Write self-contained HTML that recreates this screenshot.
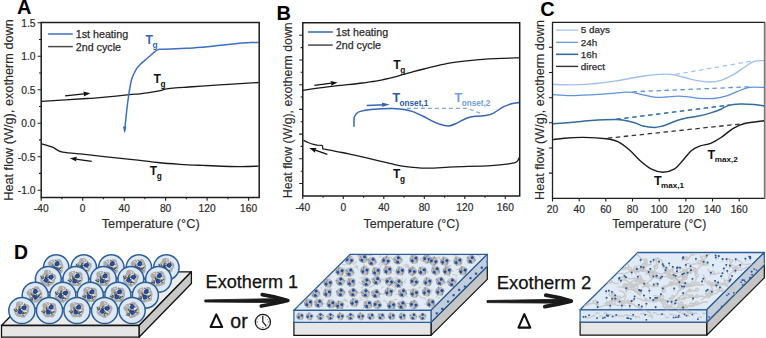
<!DOCTYPE html>
<html><head><meta charset="utf-8"><style>
html,body{margin:0;padding:0;background:#fff;}
svg{display:block;font-family:"Liberation Sans", sans-serif;}
</style></head><body>
<svg width="766" height="338" viewBox="0 0 766 338">
<defs><g id="blb"><path d="M-6,-6.5 C-3,-8.2 0,-7.6 2.2,-6.4 C4.8,-7.8 7.4,-5 6.6,-2.5 C7.8,0 7,3.2 5.2,4.8 C5.8,7 3,8.4 0.5,7.3 C-2.2,8.5 -5.4,7.2 -6.2,5 C-7.9,3 -7.6,0 -6.4,-1.8 C-7.6,-3.6 -7.4,-5.6 -6,-6.5 Z" fill="#ababab"/><path d="M2.2,3.7 l-2.6,0.3 M-1.5,-0.0 l-1.0,1.1 M0.0,0.3 l-0.2,-3.2 M-0.7,0.0 l-2.1,2.3 M-3.3,1.0 l-2.1,0.2 M0.2,-1.3 l2.5,-1.9 M2.1,2.1 l0.9,2.8 M-2.3,0.7 l-2.4,2.1 M-3.0,0.1 l-0.0,-2.4 M0.4,1.0 l1.9,-0.9 M4.6,2.0 l-2.0,2.0 M-5.1,3.4 l-2.6,-1.7 M0.7,-0.7 l0.6,-1.5 M-0.1,1.8 l1.1,1.9 M-0.1,-3.0 l1.9,-0.5 M2.6,-4.2 l-2.4,-1.8 M-1.7,-0.4 l2.8,0.2 " stroke="#4f4f4f" stroke-width="1.1" stroke-linecap="round" fill="none"/><path d="M1.0,4.8 l-2.9,-0.2 M-0.4,-0.2 l0.3,2.8 M2.7,-2.7 l-0.7,1.4 M2.9,4.2 l1.5,-0.7 M0.1,0.2 l0.3,3.0 M0.1,-4.7 l-0.3,-2.5 M4.9,-2.6 l-1.5,1.6 M0.6,0.1 l2.7,-0.1 M0.7,3.7 l-1.8,-1.7 M-2.1,3.0 l1.6,1.2 M-1.7,-3.8 l2.9,-0.8 M2.3,-2.0 l0.0,2.1 M0.4,-3.0 l2.8,0.9 M1.9,0.9 l3.0,-0.3 M-4.5,-0.7 l0.4,1.5 M-3.2,1.6 l-1.0,2.8 M-2.3,-5.4 l-1.3,-0.9 " stroke="#e9e9e9" stroke-width="0.9" stroke-linecap="round" fill="none"/><rect x="0" y="-4.2" width="3.5" height="3.5" rx="1" fill="#2352ad" stroke="#15357a" stroke-width="0.8"/><rect x="-2.9" y="0.9" width="3.5" height="3.5" rx="1" fill="#2352ad" stroke="#15357a" stroke-width="0.8"/></g><g id="mb"><path d="M-4,-3.4 C-2,-4.8 1.2,-4.8 3.4,-3.5 C4.8,-1.6 4.5,1.6 3.4,3.5 C1.2,4.8 -2,4.5 -3.8,3.2 C-5,1.2 -5,-1.6 -4,-3.4 Z" fill="#b4b4b4" opacity="0.85"/><path d="M-3.4,-2.8 C-1.2,-1.6 -2.8,0.6 -1.2,2.2 S-2,4 -0.4,4 M1.5,-3.6 C3.4,-2.2 2,0 3.6,1.8 M-4,0.4 C-3,1.2 -3.5,2.2 -2.6,3" fill="none" stroke="#888" stroke-width="1" stroke-linecap="round"/><rect x="-0.1" y="-2.9" width="2.7" height="2.6" rx="0.8" fill="#1d4ca4"/><rect x="-2.7" y="0.5" width="2.6" height="2.6" rx="0.8" fill="#1d4ca4"/></g><clipPath id="cm"><path d="M294.5,309.7 L430.4,309.7 L486.7,254.9 L350.8,254.9 Z"/><path d="M294.5,310.9 H430.4 V321.7 H294.5 Z"/><path d="M431.6,310.9 L486.7,255.8 L486.7,266.5 L431.6,321.7 Z"/></clipPath><clipPath id="cr"><path d="M580.7,309.2 L706.1,309.2 L763.1,253.1 L637.7,253.1 Z"/><path d="M580.7,310.4 H706.1 V321.6 H580.7 Z"/><path d="M707.3,310.4 L764.2,253.7 L764.2,266 L707.3,321.6 Z"/></clipPath></defs>
<rect width="766" height="338" fill="#fff"/>
<text x="17" y="14.4" font-weight="bold" font-size="20" fill="#000">A</text>
<text x="276.4" y="19.8" font-weight="bold" font-size="20" fill="#000">B</text>
<text x="540.2" y="16.3" font-weight="bold" font-size="20" fill="#000">C</text>
<text x="14.1" y="259.0" font-weight="bold" font-size="19.4" fill="#000">D</text>
<path d="M41.2,22.7h-3.6M41.2,56.2h-3.6M41.2,89.7h-3.6M41.2,123.2h-3.6M41.2,156.7h-3.6M41.2,190.2h-3.6M41.2,39.5h-2.2M41.2,73.0h-2.2M41.2,106.5h-2.2M41.2,139.9h-2.2M41.2,173.4h-2.2" stroke="#1e1e1e" stroke-width="1.1" fill="none"/>
<text x="35.6" y="26.9" text-anchor="end" font-size="10.3" fill="#2b2b2b" stroke="#2b2b2b" stroke-width="0.2">1.5</text>
<text x="35.6" y="60.4" text-anchor="end" font-size="10.3" fill="#2b2b2b" stroke="#2b2b2b" stroke-width="0.2">1.0</text>
<text x="35.6" y="93.9" text-anchor="end" font-size="10.3" fill="#2b2b2b" stroke="#2b2b2b" stroke-width="0.2">0.5</text>
<text x="35.6" y="127.4" text-anchor="end" font-size="10.3" fill="#2b2b2b" stroke="#2b2b2b" stroke-width="0.2">0.0</text>
<text x="35.6" y="160.9" text-anchor="end" font-size="10.3" fill="#2b2b2b" stroke="#2b2b2b" stroke-width="0.2">-0.5</text>
<text x="35.6" y="194.4" text-anchor="end" font-size="10.3" fill="#2b2b2b" stroke="#2b2b2b" stroke-width="0.2">-1.0</text>
<path d="M41.2,197.5v3.2M82.7,197.5v3.2M124.2,197.5v3.2M165.6,197.5v3.2M207.1,197.5v3.2M248.6,197.5v3.2M61.9,197.5v1.8M103.4,197.5v1.8M144.9,197.5v1.8M186.4,197.5v1.8M227.9,197.5v1.8" stroke="#1e1e1e" stroke-width="1.1" fill="none"/>
<text x="41.2" y="211.9" text-anchor="middle" font-size="10.2" fill="#2b2b2b" stroke="#2b2b2b" stroke-width="0.2">-40</text>
<text x="82.7" y="211.9" text-anchor="middle" font-size="10.2" fill="#2b2b2b" stroke="#2b2b2b" stroke-width="0.2">0</text>
<text x="124.2" y="211.9" text-anchor="middle" font-size="10.2" fill="#2b2b2b" stroke="#2b2b2b" stroke-width="0.2">40</text>
<text x="165.6" y="211.9" text-anchor="middle" font-size="10.2" fill="#2b2b2b" stroke="#2b2b2b" stroke-width="0.2">80</text>
<text x="207.1" y="211.9" text-anchor="middle" font-size="10.2" fill="#2b2b2b" stroke="#2b2b2b" stroke-width="0.2">120</text>
<text x="248.6" y="211.9" text-anchor="middle" font-size="10.2" fill="#2b2b2b" stroke="#2b2b2b" stroke-width="0.2">160</text>
<text transform="translate(12.5,109.95) rotate(-90)" text-anchor="middle" font-size="12.73" fill="#2b2b2b" stroke="#2b2b2b" stroke-width="0.12">Heat flow (W/g), exotherm down</text>
<text x="150.7" y="228.4" text-anchor="middle" font-size="12.75" fill="#2b2b2b" stroke="#2b2b2b" stroke-width="0.15">Temperature (°C)</text>
<path d="M48.1,34H72.8" stroke="#3d6ec2" stroke-width="1.5"/>
<text x="75.8" y="37.9" font-size="10.7" fill="#2b2b2b" stroke="#2b2b2b" stroke-width="0.25">1st heating</text>
<path d="M48.1,46.6H72.8" stroke="#4a4a4a" stroke-width="1.5"/>
<text x="75.8" y="50.6" font-size="10.7" fill="#2b2b2b" stroke="#2b2b2b" stroke-width="0.25">2nd cycle</text>
<path d="M41.5,101.3 C49.1,100.8 76.4,99.2 87.0,98.5 C97.6,97.8 98.0,97.9 105.0,97.2 C112.0,96.5 123.5,95.2 129.3,94.6 C135.1,94.0 135.2,94.4 140.0,93.8 C144.8,93.2 154.1,91.7 157.8,91.1 C161.5,90.5 160.7,90.6 162.2,90.2 C163.7,89.8 164.4,89.3 166.6,88.9 C168.8,88.5 171.8,88.2 175.5,87.9 C179.2,87.6 184.5,87.3 188.8,87.0 C193.1,86.7 194.1,86.6 201.4,86.1 C208.7,85.6 222.9,84.7 232.4,84.1 C241.9,83.5 254.2,82.8 258.6,82.5" fill="none" stroke="#1a1a1a" stroke-width="1.3" stroke-linejoin="round"/>
<path d="M41.6,143.8 C43.4,144.4 49.0,145.8 52.5,147.2 C56.0,148.6 57.0,151.0 62.7,152.2 C68.5,153.4 77.7,153.6 87.0,154.6 C96.3,155.6 109.5,157.2 118.3,158.2 C127.1,159.1 133.4,159.6 140.0,160.3 C146.6,161.0 151.0,161.8 157.7,162.5 C164.4,163.2 172.4,163.8 180.0,164.3 C187.6,164.8 193.4,165.0 203.2,165.4 C213.0,165.8 229.5,166.5 238.7,166.6 C247.9,166.7 255.3,166.2 258.6,166.1" fill="none" stroke="#1a1a1a" stroke-width="1.3" stroke-linejoin="round"/>
<path d="M124.6,131.5 C124.7,130.3 124.9,128.0 125.3,124.4 C125.7,120.8 126.2,114.7 126.8,110.0 C127.3,105.3 128.0,100.0 128.6,96.0 C129.2,92.0 129.7,88.7 130.2,86.0 C130.7,83.3 130.9,81.7 131.5,79.7 C132.1,77.7 133.0,75.7 133.9,73.8 C134.8,71.9 135.7,70.0 136.8,68.4 C137.9,66.8 139.0,65.7 140.4,64.3 C141.8,62.9 143.5,61.5 145.1,60.1 C146.7,58.7 148.3,57.4 149.9,56.0 C151.5,54.6 153.2,52.9 154.6,51.8 C156.0,50.7 157.2,50.0 158.2,49.6 C159.2,49.2 158.7,49.4 160.8,49.3 C162.9,49.2 166.4,49.3 170.7,49.1 C174.9,48.9 181.1,48.6 186.3,48.3 C191.5,48.0 198.1,47.5 202.0,47.2 C205.9,46.9 206.4,47.0 210.0,46.6 C213.6,46.2 219.1,45.4 223.6,44.9 C228.1,44.4 232.7,43.8 237.2,43.4 C241.7,43.0 247.1,42.8 250.7,42.6 C254.3,42.4 257.3,42.4 258.6,42.4" fill="none" stroke="#3d6ec2" stroke-width="1.5" stroke-linejoin="round"/>
<path d="M122.9,126.6 L124.6,133.2 L126.4,126.8 Z" fill="#3d6ec2"/>
<path d="M65.1,95.9 L86.4,93.7" stroke="#111" stroke-width="1.3"/>
<path d="M90.4,93.3 L83.7,96.4 L84.2,93.9 L83.2,91.6 Z" fill="#111"/>
<path d="M91.7,161.3 L73.8,158.8" stroke="#111" stroke-width="1.3"/>
<path d="M69.8,158.2 L77.1,156.8 L75.9,159.1 L76.4,161.6 Z" fill="#111"/>
<text x="145.6" y="43.8" font-weight="bold" font-size="12.1" fill="#3264b8">T<tspan dx="-0.4" dy="3.9" font-size="8.3">g</tspan></text>
<text x="153.4" y="83.0" font-weight="bold" font-size="12.1" fill="#111">T<tspan dx="-0.4" dy="3.9" font-size="8.3">g</tspan></text>
<text x="149.7" y="174.7" font-weight="bold" font-size="12.1" fill="#111">T<tspan dx="-0.4" dy="3.9" font-size="8.3">g</tspan></text>
<path d="M41.2,22.6 H259.2 V197.5 H41.2 Z" fill="none" stroke="#1e1e1e" stroke-width="1.5"/>
<path d="M302.8,35.3h-3.6M302.8,60.0h-3.6M302.8,84.7h-3.6M302.8,109.4h-3.6M302.8,134.1h-3.6M302.8,158.8h-3.6M302.8,183.5h-3.6M302.8,47.6h-2.2M302.8,72.3h-2.2M302.8,97.0h-2.2M302.8,121.8h-2.2M302.8,146.4h-2.2M302.8,171.2h-2.2" stroke="#1e1e1e" stroke-width="1.1" fill="none"/>
<path d="M302.8,195.9v3.2M343.3,195.9v3.2M383.8,195.9v3.2M424.3,195.9v3.2M464.8,195.9v3.2M505.3,195.9v3.2M323.1,195.9v1.8M363.6,195.9v1.8M404.1,195.9v1.8M444.6,195.9v1.8M485.1,195.9v1.8" stroke="#1e1e1e" stroke-width="1.1" fill="none"/>
<text x="302.8" y="211.0" text-anchor="middle" font-size="10.2" fill="#2b2b2b" stroke="#2b2b2b" stroke-width="0.2">-40</text>
<text x="343.3" y="211.0" text-anchor="middle" font-size="10.2" fill="#2b2b2b" stroke="#2b2b2b" stroke-width="0.2">0</text>
<text x="383.8" y="211.0" text-anchor="middle" font-size="10.2" fill="#2b2b2b" stroke="#2b2b2b" stroke-width="0.2">40</text>
<text x="424.3" y="211.0" text-anchor="middle" font-size="10.2" fill="#2b2b2b" stroke="#2b2b2b" stroke-width="0.2">80</text>
<text x="464.8" y="211.0" text-anchor="middle" font-size="10.2" fill="#2b2b2b" stroke="#2b2b2b" stroke-width="0.2">120</text>
<text x="505.3" y="211.0" text-anchor="middle" font-size="10.2" fill="#2b2b2b" stroke="#2b2b2b" stroke-width="0.2">160</text>
<text transform="translate(292.0,110.3) rotate(-90)" text-anchor="middle" font-size="12.32" fill="#2b2b2b" stroke="#2b2b2b" stroke-width="0.12">Heat flow (W/g), exotherm down</text>
<text x="411.5" y="227.6" text-anchor="middle" font-size="12.5" fill="#2b2b2b" stroke="#2b2b2b" stroke-width="0.15">Temperature (°C)</text>
<path d="M308.1,32H332.8" stroke="#3565b5" stroke-width="1.5"/>
<text x="335.8" y="35.8" font-size="10.7" fill="#2b2b2b" stroke="#2b2b2b" stroke-width="0.25">1st heating</text>
<path d="M308.1,45.1H332.8" stroke="#4a4a4a" stroke-width="1.5"/>
<text x="335.8" y="49.0" font-size="10.7" fill="#2b2b2b" stroke="#2b2b2b" stroke-width="0.25">2nd cycle</text>
<path d="M303.0,90.4 C305.1,90.1 311.0,89.1 315.7,88.4 C320.4,87.7 326.1,86.9 331.3,86.3 C336.5,85.7 341.8,85.2 347.0,84.7 C352.2,84.2 357.5,83.7 362.7,83.0 C367.9,82.3 373.1,81.7 378.3,80.7 C383.5,79.7 389.8,78.2 394.0,77.2 C398.2,76.2 400.7,75.2 403.4,74.4 C406.1,73.6 406.6,73.5 410.0,72.6 C413.4,71.7 417.6,70.5 423.9,69.0 C430.2,67.5 439.8,64.8 447.8,63.4 C455.8,61.9 463.7,61.1 471.7,60.3 C479.7,59.5 487.7,59.0 495.6,58.6 C503.5,58.2 515.3,58.0 519.2,57.9" fill="none" stroke="#1a1a1a" stroke-width="1.3" stroke-linejoin="round"/>
<path d="M303.5,140.2 C304.3,140.6 306.5,141.8 308.2,142.5 C309.9,143.2 312.0,144.0 313.5,144.4 C315.0,144.8 315.9,145.0 317.4,145.2 C318.9,145.3 321.6,145.3 322.4,145.3" fill="none" stroke="#1a1a1a" stroke-width="1.3" stroke-linejoin="round"/>
<path d="M322.4,145.3 L322.9,149.0 L324.3,149.2" fill="none" stroke="#1a1a1a" stroke-width="1.3"/>
<path d="M324.3,149.2 C327.2,149.8 337.2,151.6 342.0,152.5 C346.8,153.4 347.0,153.5 353.3,154.9 C359.6,156.3 373.6,159.6 379.9,161.1 C386.2,162.6 387.1,162.8 391.1,163.7 C395.1,164.6 398.2,165.6 404.1,166.3 C410.0,167.1 418.0,168.1 426.3,168.2 C434.6,168.3 443.4,167.3 454.2,166.9 C465.0,166.5 481.9,166.1 491.2,165.6 C500.5,165.1 505.6,164.3 509.8,163.7 C514.0,163.1 514.9,163.0 516.5,162.0 C518.1,161.0 518.8,158.3 519.2,157.6" fill="none" stroke="#1a1a1a" stroke-width="1.3" stroke-linejoin="round"/>
<path d="M354.0,126.7 C354.0,125.8 353.9,122.6 354.0,121.0 C354.1,119.4 353.9,118.5 354.3,117.3 C354.7,116.1 355.3,114.7 356.3,113.7 C357.3,112.7 358.0,112.1 360.4,111.4 C362.8,110.7 367.4,109.9 370.9,109.5 C374.4,109.1 377.8,109.0 381.3,108.8 C384.8,108.6 388.3,108.3 391.8,108.4 C395.3,108.5 398.7,108.8 402.2,109.3 C405.7,109.8 409.2,110.4 412.7,111.6 C416.2,112.8 420.2,114.9 423.1,116.3 C426.0,117.7 427.3,118.6 430.0,119.9 C432.7,121.2 436.2,123.1 439.3,124.1 C442.4,125.1 445.5,126.2 448.6,126.0 C451.7,125.8 454.8,123.9 457.9,122.6 C461.0,121.3 464.0,119.1 467.1,118.0 C470.2,116.9 473.3,116.6 476.4,116.2 C479.5,115.8 482.9,116.1 485.7,115.6 C488.5,115.1 490.3,114.8 493.1,113.4 C495.9,112.0 499.3,109.0 502.4,107.4 C505.5,105.8 508.8,104.5 511.6,103.7 C514.4,102.9 517.9,102.8 519.2,102.6" fill="none" stroke="#3565b5" stroke-width="1.5" stroke-linejoin="round"/>
<path d="M406.9,108.4 L467.1,108.4 L481.0,113.4" fill="none" stroke="#7fa6e0" stroke-width="1.2" stroke-dasharray="4,3"/>
<path d="M314.4,85.4 L333.6,82.9" stroke="#111" stroke-width="1.3"/>
<path d="M337.6,82.4 L331.0,85.7 L331.5,83.2 L330.4,80.9 Z" fill="#111"/>
<path d="M327.4,154.4 L313.1,149.4" stroke="#111" stroke-width="1.3"/>
<path d="M309.3,148.1 L316.7,148.1 L315.2,150.1 L315.1,152.7 Z" fill="#111"/>
<path d="M366.7,105.5 L384.7,104.7" stroke="#3565b5" stroke-width="1.6"/>
<path d="M389.7,104.5 L381.8,107.0 L382.5,104.8 L381.6,102.6 Z" fill="#3565b5"/>
<text x="393.3" y="69.4" font-weight="bold" font-size="12.1" fill="#111">T<tspan dx="-0.4" dy="3.9" font-size="8.3">g</tspan></text>
<text x="393.0" y="178" font-weight="bold" font-size="12.1" fill="#111">T<tspan dx="-0.4" dy="3.9" font-size="8.3">g</tspan></text>
<text x="392.4" y="101.9" font-weight="bold" font-size="12.5" fill="#2a5aa0">T<tspan dx="-0.5" dy="3.8" font-size="8.2">onset,1</tspan></text>
<text x="454.5" y="101.9" font-weight="bold" font-size="12.5" fill="#6f9de0">T<tspan dx="-0.5" dy="3.8" font-size="8.2">onset,2</tspan></text>
<path d="M302.8,22.8 H519.7 V195.9 H302.8 Z" fill="none" stroke="#1e1e1e" stroke-width="1.5"/>
<path d="M552.5,47.3h-3.6M552.5,72.5h-3.6M552.5,97.7h-3.6M552.5,122.8h-3.6M552.5,148.0h-3.6M552.5,173.1h-3.6" stroke="#1e1e1e" stroke-width="1.1" fill="none"/>
<path d="M552.5,198.4v3.2M579.2,198.4v3.2M605.8,198.4v3.2M632.5,198.4v3.2M659.2,198.4v3.2M685.9,198.4v3.2M712.5,198.4v3.2M739.2,198.4v3.2" stroke="#1e1e1e" stroke-width="1.1" fill="none"/>
<text x="552.5" y="212.6" text-anchor="middle" font-size="10.2" fill="#2b2b2b" stroke="#2b2b2b" stroke-width="0.2">20</text>
<text x="579.2" y="212.6" text-anchor="middle" font-size="10.2" fill="#2b2b2b" stroke="#2b2b2b" stroke-width="0.2">40</text>
<text x="605.8" y="212.6" text-anchor="middle" font-size="10.2" fill="#2b2b2b" stroke="#2b2b2b" stroke-width="0.2">60</text>
<text x="632.5" y="212.6" text-anchor="middle" font-size="10.2" fill="#2b2b2b" stroke="#2b2b2b" stroke-width="0.2">80</text>
<text x="659.2" y="212.6" text-anchor="middle" font-size="10.2" fill="#2b2b2b" stroke="#2b2b2b" stroke-width="0.2">100</text>
<text x="685.9" y="212.6" text-anchor="middle" font-size="10.2" fill="#2b2b2b" stroke="#2b2b2b" stroke-width="0.2">120</text>
<text x="712.5" y="212.6" text-anchor="middle" font-size="10.2" fill="#2b2b2b" stroke="#2b2b2b" stroke-width="0.2">140</text>
<text x="739.2" y="212.6" text-anchor="middle" font-size="10.2" fill="#2b2b2b" stroke="#2b2b2b" stroke-width="0.2">160</text>
<text transform="translate(543.5,110.0) rotate(-90)" text-anchor="middle" font-size="12.6" fill="#2b2b2b" stroke="#2b2b2b" stroke-width="0.12">Heat flow (W/g), exotherm down</text>
<text x="659.2" y="228.4" text-anchor="middle" font-size="12.25" fill="#2b2b2b" stroke="#2b2b2b" stroke-width="0.15">Temperature (°C)</text>
<path d="M556,30.1H578.2" stroke="#9dc0ee" stroke-width="1.2"/>
<text x="580.8" y="33.3" font-size="9.9" fill="#2b2b2b" stroke="#2b2b2b" stroke-width="0.25">5 days</text>
<path d="M556,42.3H578.2" stroke="#5f92de" stroke-width="1.2"/>
<text x="580.8" y="45.8" font-size="9.9" fill="#2b2b2b" stroke="#2b2b2b" stroke-width="0.25">24h</text>
<path d="M556,54.3H578.2" stroke="#336c9e" stroke-width="1.6"/>
<text x="580.8" y="57.9" font-size="9.9" fill="#2b2b2b" stroke="#2b2b2b" stroke-width="0.25">16h</text>
<path d="M556,66.4H578.2" stroke="#333" stroke-width="1.4"/>
<text x="580.8" y="70.2" font-size="9.9" fill="#2b2b2b" stroke="#2b2b2b" stroke-width="0.25">direct</text>
<path d="M553.0,84.4 C556.0,84.5 564.3,85.0 570.7,84.9 C577.1,84.8 584.0,84.5 591.4,83.9 C598.8,83.3 608.4,82.0 614.8,81.1 C621.2,80.2 624.7,79.3 629.6,78.5 C634.5,77.7 639.5,76.7 644.4,76.0 C649.3,75.3 654.8,74.6 659.2,74.3 C663.6,74.0 667.1,73.8 671.0,74.3 C674.9,74.8 678.4,76.0 682.8,77.0 C687.2,78.0 692.9,79.8 697.3,80.6 C701.7,81.4 705.2,82.0 709.2,82.0 C713.2,82.0 717.0,81.5 721.0,80.3 C725.0,79.1 728.9,77.1 732.9,74.9 C736.9,72.7 741.2,69.2 744.7,67.0 C748.2,64.8 750.9,62.4 754.2,61.4 C757.5,60.4 762.8,60.8 764.5,60.7" fill="none" stroke="#9dc0ee" stroke-width="1.3" stroke-linejoin="round"/>
<path d="M675.4,74.4 L754.2,60.7" fill="none" stroke="#9dc0ee" stroke-width="1.2" stroke-dasharray="4.5,3.5"/>
<path d="M553.0,94.6 C556.0,94.8 564.3,95.6 570.7,95.6 C577.1,95.6 584.0,95.2 591.4,94.8 C598.8,94.4 609.3,93.5 614.8,93.1 C620.3,92.7 621.6,92.3 624.6,92.2 C627.6,92.1 629.2,91.9 632.5,92.4 C635.8,92.9 640.4,94.3 644.4,95.1 C648.4,95.9 652.5,97.0 656.2,97.3 C659.9,97.6 662.9,97.2 666.6,97.0 C670.3,96.8 674.7,96.2 678.4,96.2 C682.1,96.2 685.2,96.6 688.8,96.9 C692.4,97.2 695.8,98.0 700.0,98.3 C704.2,98.6 709.6,98.8 713.9,98.5 C718.2,98.2 721.8,97.4 725.8,96.2 C729.8,95.0 733.7,92.9 737.6,91.4 C741.5,89.9 744.9,88.1 749.4,87.4 C753.9,86.7 762.0,87.4 764.5,87.4" fill="none" stroke="#5f92de" stroke-width="1.3" stroke-linejoin="round"/>
<path d="M632.5,91.8 L751.8,86.7" fill="none" stroke="#5f92de" stroke-width="1.3" stroke-dasharray="4.5,3.5"/>
<path d="M553.0,123.8 C557.2,123.5 571.8,122.4 578.2,121.8 C584.6,121.2 585.3,120.8 591.4,120.4 C597.5,120.0 609.7,119.5 614.9,119.5 C620.1,119.5 619.2,119.6 622.5,120.1 C625.8,120.6 631.2,121.7 634.6,122.7 C638.0,123.7 639.7,125.2 643.0,126.0 C646.3,126.8 651.2,127.4 654.3,127.4 C657.4,127.4 659.4,126.8 661.8,126.2 C664.1,125.6 665.9,125.0 668.4,124.0 C670.9,123.0 674.1,121.5 677.0,120.5 C679.9,119.5 682.1,118.9 685.5,118.2 C688.9,117.5 693.3,117.1 697.3,116.3 C701.2,115.5 705.2,114.6 709.2,113.4 C713.2,112.2 717.9,110.5 721.0,109.2 C724.1,107.9 724.9,106.5 728.1,105.6 C731.3,104.7 735.6,104.2 740.0,104.0 C744.4,103.8 750.1,104.2 754.2,104.5 C758.3,104.8 762.8,105.8 764.5,106.1" fill="none" stroke="#336c9e" stroke-width="1.5" stroke-linejoin="round"/>
<path d="M616.3,119.3 L730.5,104.9" fill="none" stroke="#336c9e" stroke-width="1.4" stroke-dasharray="4.5,3.5"/>
<path d="M553.0,139.6 C554.9,139.4 559.0,138.6 564.1,138.2 C569.2,137.8 576.8,137.3 583.8,137.4 C590.8,137.5 600.8,138.1 606.4,138.8 C612.0,139.5 613.9,139.8 617.7,141.6 C621.5,143.4 625.2,146.3 629.0,149.5 C632.8,152.7 636.5,157.5 640.2,160.8 C644.0,164.1 647.7,167.3 651.5,169.2 C655.3,171.1 659.2,172.3 663.0,172.3 C666.8,172.3 670.9,171.1 674.1,169.2 C677.4,167.3 679.7,163.9 682.5,160.8 C685.3,157.8 688.2,153.4 691.0,150.9 C693.8,148.4 696.2,147.4 699.5,146.1 C702.8,144.8 707.0,144.9 710.7,143.3 C714.5,141.8 718.2,139.3 722.0,136.8 C725.8,134.3 729.5,130.5 733.3,128.3 C737.1,126.1 739.4,124.8 744.6,123.5 C749.8,122.2 761.2,121.2 764.5,120.7" fill="none" stroke="#1a1a1a" stroke-width="1.4" stroke-linejoin="round"/>
<path d="M607.8,138.2 L744.6,123.5" fill="none" stroke="#333" stroke-width="1.3" stroke-dasharray="4.5,3.5"/>
<text x="654.0" y="184.8" font-weight="bold" font-size="12.6" fill="#111">T<tspan dx="-0.6" dy="3.0" font-size="8.1">max,1</tspan></text>
<text x="707.6" y="158.7" font-weight="bold" font-size="12.6" fill="#111">T<tspan dx="-0.6" dy="3.0" font-size="8.1">max,2</tspan></text>
<path d="M552.5,22.3 H764.6 V198.4 H552.5 Z" fill="none" stroke="#1e1e1e" stroke-width="1.3"/>
<path d="M764.6,22.3 V198.4" stroke="#777" stroke-width="1.4"/>
<path d="M1.5,325.5 L139,325.5 L191.4,271.8 L53.9,271.8 Z" fill="#ececec" stroke="#111" stroke-width="1.3" stroke-linejoin="round"/><path d="M139,325.5 L191.4,271.8 L191.4,283.5 L139,337.2 Z" fill="#c8c8c8" stroke="#111" stroke-width="1.3" stroke-linejoin="round"/><path d="M1.5,325.5 H139 V337.2 H1.5 Z" fill="#e6e6e6" stroke="#111" stroke-width="1.3"/>
<circle cx="56.2" cy="267.4" r="12.7" fill="#deE9F6" stroke="#2b5e98" stroke-width="1.5"/><use href="#blb" transform="translate(56.2,266.6) rotate(-15)"/><circle cx="83.8" cy="267.4" r="12.7" fill="#deE9F6" stroke="#2b5e98" stroke-width="1.5"/><use href="#blb" transform="translate(83.8,266.6) rotate(30)"/><circle cx="111.3" cy="267.4" r="12.7" fill="#deE9F6" stroke="#2b5e98" stroke-width="1.5"/><use href="#blb" transform="translate(111.3,266.6) rotate(-15)"/><circle cx="138.9" cy="267.4" r="12.7" fill="#deE9F6" stroke="#2b5e98" stroke-width="1.5"/><use href="#blb" transform="translate(138.9,266.6) rotate(-15)"/><circle cx="166.4" cy="267.4" r="12.7" fill="#deE9F6" stroke="#2b5e98" stroke-width="1.5"/><use href="#blb" transform="translate(166.4,266.6) rotate(30)"/><circle cx="48.3" cy="279.3" r="12.9" fill="#deE9F6" stroke="#2b5e98" stroke-width="1.5"/><use href="#blb" transform="translate(48.3,278.5) rotate(30)"/><circle cx="75.8" cy="279.3" r="12.9" fill="#deE9F6" stroke="#2b5e98" stroke-width="1.5"/><use href="#blb" transform="translate(75.8,278.5) rotate(0)"/><circle cx="103.4" cy="279.3" r="12.9" fill="#deE9F6" stroke="#2b5e98" stroke-width="1.5"/><use href="#blb" transform="translate(103.4,278.5) rotate(0)"/><circle cx="130.9" cy="279.3" r="12.9" fill="#deE9F6" stroke="#2b5e98" stroke-width="1.5"/><use href="#blb" transform="translate(130.9,278.5) rotate(30)"/><circle cx="158.5" cy="279.3" r="12.9" fill="#deE9F6" stroke="#2b5e98" stroke-width="1.5"/><use href="#blb" transform="translate(158.5,278.5) rotate(-15)"/><circle cx="35.2" cy="295.2" r="13.0" fill="#deE9F6" stroke="#2b5e98" stroke-width="1.5"/><use href="#blb" transform="translate(35.2,294.4) rotate(-30)"/><circle cx="62.8" cy="295.2" r="13.0" fill="#deE9F6" stroke="#2b5e98" stroke-width="1.5"/><use href="#blb" transform="translate(62.8,294.4) rotate(30)"/><circle cx="90.3" cy="295.2" r="13.0" fill="#deE9F6" stroke="#2b5e98" stroke-width="1.5"/><use href="#blb" transform="translate(90.3,294.4) rotate(0)"/><circle cx="117.9" cy="295.2" r="13.0" fill="#deE9F6" stroke="#2b5e98" stroke-width="1.5"/><use href="#blb" transform="translate(117.9,294.4) rotate(0)"/><circle cx="145.4" cy="295.2" r="13.0" fill="#deE9F6" stroke="#2b5e98" stroke-width="1.5"/><use href="#blb" transform="translate(145.4,294.4) rotate(-15)"/><circle cx="21.9" cy="310.5" r="13.1" fill="#deE9F6" stroke="#2b5e98" stroke-width="1.5"/><use href="#blb" transform="translate(21.9,309.7) rotate(15)"/><circle cx="49.5" cy="310.5" r="13.1" fill="#deE9F6" stroke="#2b5e98" stroke-width="1.5"/><use href="#blb" transform="translate(49.5,309.7) rotate(0)"/><circle cx="77.0" cy="310.5" r="13.1" fill="#deE9F6" stroke="#2b5e98" stroke-width="1.5"/><use href="#blb" transform="translate(77.0,309.7) rotate(0)"/><circle cx="104.6" cy="310.5" r="13.1" fill="#deE9F6" stroke="#2b5e98" stroke-width="1.5"/><use href="#blb" transform="translate(104.6,309.7) rotate(30)"/><circle cx="132.1" cy="310.5" r="13.1" fill="#deE9F6" stroke="#2b5e98" stroke-width="1.5"/><use href="#blb" transform="translate(132.1,309.7) rotate(-30)"/>
<path d="M204.8,299.90000000000003 L284.3,298.5 L284.3,302.7 L204.8,302.0 Z" fill="#1a1a1a" stroke="#1a1a1a" stroke-width="0.8" stroke-linejoin="round"/><path d="M262.3,294.6 Q276.3,296.8 287.8,300.5 Q276.3,303.40000000000003 261.3,306.0" fill="none" stroke="#1a1a1a" stroke-width="3.8" stroke-linecap="round" stroke-linejoin="round"/>
<text x="205.6" y="287.8" font-size="18" fill="#111" stroke="#111" stroke-width="0.25" textLength="92.6" lengthAdjust="spacingAndGlyphs">Exotherm 1</text>
<path d="M216.3,314.4 L210.6,327 L222.2,327 Z" fill="none" stroke="#111" stroke-width="2.1" stroke-linejoin="round"/>
<text x="230.3" y="327.5" font-size="19.5" fill="#111" stroke="#111" stroke-width="0.3">or</text>
<circle cx="262.9" cy="322" r="7.6" fill="#fff" stroke="#1a1a1a" stroke-width="1.3"/><path d="M262.90,317.00L262.90,315.70" stroke="#333" stroke-width="0.9"/><path d="M265.60,317.32L265.90,316.80" stroke="#333" stroke-width="0.9"/><path d="M267.58,319.30L268.10,319.00" stroke="#333" stroke-width="0.9"/><path d="M267.90,322.00L269.20,322.00" stroke="#333" stroke-width="0.9"/><path d="M267.58,324.70L268.10,325.00" stroke="#333" stroke-width="0.9"/><path d="M265.60,326.68L265.90,327.20" stroke="#333" stroke-width="0.9"/><path d="M262.90,327.00L262.90,328.30" stroke="#333" stroke-width="0.9"/><path d="M260.20,326.68L259.90,327.20" stroke="#333" stroke-width="0.9"/><path d="M258.22,324.70L257.70,325.00" stroke="#333" stroke-width="0.9"/><path d="M257.90,322.00L256.60,322.00" stroke="#333" stroke-width="0.9"/><path d="M258.22,319.30L257.70,319.00" stroke="#333" stroke-width="0.9"/><path d="M260.20,317.32L259.90,316.80" stroke="#333" stroke-width="0.9"/><path d="M262.8,316.6V321.8L266.1,325.8" fill="none" stroke="#1a1a1a" stroke-width="1.2" stroke-linecap="round" stroke-linejoin="round"/>
<path d="M487.0,300.5 L567.8,299.09999999999997 L567.8,303.29999999999995 L487.0,302.59999999999997 Z" fill="#1a1a1a" stroke="#1a1a1a" stroke-width="0.8" stroke-linejoin="round"/><path d="M545.8,295.2 Q559.8,297.4 571.3,301.09999999999997 Q559.8,304.0 544.8,306.59999999999997" fill="none" stroke="#1a1a1a" stroke-width="3.8" stroke-linecap="round" stroke-linejoin="round"/>
<text x="496.8" y="288.8" font-size="18" fill="#111" stroke="#111" stroke-width="0.25" textLength="94.4" lengthAdjust="spacingAndGlyphs">Exotherm 2</text>
<path d="M524.3,314.2 L518.5,327.6 L530.3,327.6 Z" fill="none" stroke="#111" stroke-width="2.1" stroke-linejoin="round"/>
<path d="M431.0,322.3 L487.3,266.3 L487.3,279.40000000000003 L431.0,335.40000000000003 Z" fill="#c5c5c5" stroke="#111" stroke-width="1.2" stroke-linejoin="round"/><path d="M293.9,322.3 H431.0 V335.40000000000003 H293.9 Z" fill="#e6e6e6" stroke="#111" stroke-width="1.2"/><path d="M293.9,310.3 L431.0,310.3 L487.3,254.3 L350.2,254.3 Z" fill="#e1ebf7" stroke="#2b5e98" stroke-width="1.3" stroke-linejoin="round"/><path d="M431.0,310.3 L487.3,254.3 L487.3,266.3 L431.0,322.3 Z" fill="#c3ceda" stroke="#2b5e98" stroke-width="1.2" stroke-linejoin="round"/><path d="M293.9,310.3 H431.0 V322.3 H293.9 Z" fill="#dde8f5" stroke="#2b5e98" stroke-width="1.2"/>
<path d="M706.7,322.2 L764.3000000000001,264.9 L764.3000000000001,277.9 L706.7,335.2 Z" fill="#c5c5c5" stroke="#111" stroke-width="1.2" stroke-linejoin="round"/><path d="M580.1,322.2 H706.7 V335.2 H580.1 Z" fill="#e6e6e6" stroke="#111" stroke-width="1.2"/><path d="M580.1,309.8 L706.7,309.8 L764.3000000000001,252.5 L637.7,252.5 Z" fill="#e1ebf7" stroke="#2b5e98" stroke-width="1.3" stroke-linejoin="round"/><path d="M706.7,309.8 L764.3000000000001,252.5 L764.3000000000001,264.9 L706.7,322.2 Z" fill="#c3ceda" stroke="#2b5e98" stroke-width="1.2" stroke-linejoin="round"/><path d="M580.1,309.8 H706.7 V322.2 H580.1 Z" fill="#dde8f5" stroke="#2b5e98" stroke-width="1.2"/>
<g clip-path="url(#cm)"><path d="M300.3,305.7 c-0.8,0.6 0.8,-2.6 -4.9,2.0 M307.0,307.6 c3.0,-0.2 2.0,-0.1 1.4,-2.1 M322.4,303.7 c0.1,1.4 1.0,-2.6 2.6,0.5 M322.8,308.8 c2.2,-0.2 1.3,2.3 2.1,2.5 M336.7,304.2 c-0.3,2.6 2.3,-2.4 -3.6,-1.7 M347.7,306.4 c0.8,-1.2 0.0,-0.7 -1.5,0.5 M355.7,303.5 c1.1,2.6 2.1,2.9 1.7,-2.0 M366.8,303.2 c2.4,0.4 1.3,-1.7 3.3,0.4 M364.8,308.6 c2.1,2.9 -2.5,1.8 -0.9,-2.1 M377.6,304.3 c2.2,-2.7 0.7,-2.7 2.2,-1.0 M392.2,303.1 c0.0,3.0 -1.1,-2.5 1.0,-2.8 M391.3,306.5 c0.7,-2.1 -2.7,2.2 -1.9,2.8 M405.3,306.7 c-0.2,0.1 0.9,0.6 0.6,0.7 M414.9,305.9 c-0.4,1.3 -1.6,-1.2 4.8,0.1 M416.9,308.9 c-0.5,0.5 -2.9,0.7 1.3,-2.6 M428.8,306.2 c1.1,-0.9 1.2,1.4 -4.8,-2.6 M312.8,297.1 c-1.5,-0.3 0.6,-1.1 -1.4,-1.1 M316.3,299.3 c-1.2,-0.7 1.6,-2.8 0.7,1.4 M321.9,301.6 c1.8,-1.6 -1.9,-0.4 2.0,-2.4 M331.0,300.9 c2.0,-0.4 2.1,-2.0 -1.6,0.9 M344.9,300.2 c-1.6,-2.3 0.2,-1.9 3.1,2.0 M346.3,301.3 c1.8,0.9 1.8,-0.9 -3.7,-1.2 M359.7,301.3 c-0.9,-0.5 -0.5,-0.5 4.2,-2.1 M365.6,297.2 c2.3,2.9 -0.4,2.7 4.3,-1.7 M379.6,297.9 c1.0,0.1 -1.3,-1.0 -2.7,-2.6 M383.2,301.2 c1.9,-2.7 2.4,1.2 4.2,2.4 M396.0,299.5 c-2.9,1.5 -2.0,-1.2 1.6,0.1 M402.5,297.3 c0.7,-1.0 -1.5,2.2 -0.2,1.7 M405.8,301.7 c0.2,1.9 -2.0,1.8 4.2,1.8 M417.0,302.9 c0.8,2.2 -2.7,-1.4 -2.3,0.2 M424.9,300.1 c1.7,-3.0 -2.7,-2.2 -3.8,-2.6 M440.2,297.8 c-2.5,0.0 -1.1,-1.1 -1.5,0.9 M314.5,294.7 c-1.9,-1.0 -2.3,0.3 2.2,-0.7 M317.5,295.8 c-0.8,0.6 1.7,-0.7 3.0,0.7 M330.0,294.6 c-0.0,1.2 -0.5,1.2 -0.4,-1.5 M341.2,292.7 c-2.6,-0.5 -0.4,2.3 4.4,-0.8 M353.2,292.1 c-1.4,-0.2 -2.3,1.9 1.6,2.3 M360.0,292.8 c1.4,0.4 -2.4,0.5 -5.0,-2.1 M364.3,296.6 c-2.4,-2.4 2.3,-1.9 -4.8,2.0 M372.2,291.8 c1.0,2.0 2.7,0.5 3.0,-2.8 M383.9,293.8 c1.3,-2.4 1.5,2.6 -4.4,-1.1 M392.5,291.9 c-1.5,-1.9 -1.5,0.7 2.5,-0.6 M396.6,294.5 c-0.9,-0.5 -2.5,0.0 4.7,-0.5 M406.7,295.9 c1.1,1.5 1.0,0.1 -0.2,0.9 M416.3,296.0 c-2.4,1.5 2.5,0.1 -0.6,1.3 M419.4,295.3 c-1.8,0.5 -1.1,-1.6 1.9,2.7 M431.4,292.6 c-0.5,2.1 0.5,-1.4 -2.8,-2.9 M439.3,294.6 c-2.0,-0.8 -1.1,1.6 -3.6,2.9 M321.2,287.2 c-0.2,2.0 1.9,0.3 -0.2,1.3 M331.5,288.4 c1.4,2.8 -0.2,-1.6 -2.7,1.3 M341.8,285.0 c2.1,-1.5 -1.9,-1.4 -3.1,1.2 M351.4,285.4 c-1.5,2.2 -1.1,-0.5 2.3,-2.5 M352.9,285.8 c-1.2,-0.9 0.5,1.1 -4.9,-1.0 M362.0,287.9 c-1.7,0.5 2.7,-0.7 0.4,-2.3 M370.2,286.8 c-2.3,2.3 2.5,-2.4 4.4,-0.8 M383.3,286.2 c-1.2,1.1 0.9,1.8 -2.3,1.5 M392.7,286.8 c0.2,-2.3 -0.0,-0.9 2.2,1.1 M394.7,289.7 c0.9,0.8 -1.9,2.3 1.6,-2.3 M405.9,290.0 c-1.0,1.3 0.6,0.3 1.5,-0.3 M409.3,289.8 c-2.6,1.3 1.5,0.3 2.4,-0.8 M418.6,288.5 c2.2,-2.7 0.0,-1.5 2.7,-0.9 M427.6,288.4 c0.2,1.6 -0.9,2.1 -3.9,-1.4 M432.3,290.2 c1.7,1.4 -1.9,-1.9 -0.8,1.5 M450.6,286.3 c0.6,-2.1 -0.6,-1.8 0.3,0.4 M322.9,283.3 c1.7,-2.8 1.8,2.3 4.5,-0.7 M336.3,281.2 c0.8,2.9 1.1,-1.2 3.6,-0.1 M345.9,280.4 c-3.0,1.6 1.0,-0.0 0.2,-0.2 M349.7,281.6 c-2.8,0.0 0.9,-0.3 0.7,2.8 M361.5,284.0 c1.8,0.7 -2.7,-0.8 -2.7,-2.5 M371.8,279.1 c-1.1,2.2 1.2,-2.2 3.6,0.6 M382.1,280.4 c1.4,-0.9 1.8,2.6 3.6,-0.4 M387.6,281.8 c-2.3,-2.7 -2.5,-1.8 -3.4,-0.0 M395.8,281.5 c-0.5,0.9 -1.2,-0.2 2.6,-0.6 M402.1,279.3 c1.3,-0.8 -0.8,0.2 1.0,-1.7 M404.7,283.5 c1.7,-2.1 -0.2,-1.8 -2.9,-2.0 M416.2,283.8 c-2.8,-2.3 -2.0,-0.1 -4.4,-2.9 M426.4,282.3 c1.2,-2.7 -0.6,-0.6 -4.7,2.8 M431.0,284.2 c-0.2,-2.0 0.7,-0.9 -3.8,-2.7 M444.7,283.1 c1.7,-0.2 2.6,-1.2 -2.5,-1.4 M456.0,281.0 c-0.9,-2.4 1.1,2.8 0.9,-3.0 M326.6,278.2 c-2.0,-2.8 -2.7,0.9 4.0,-1.8 M345.3,275.8 c1.8,2.5 2.6,-2.8 -2.0,0.6 M351.1,278.2 c-1.2,2.1 -2.3,-0.7 -1.7,1.1 M359.8,277.7 c1.4,1.4 2.0,0.3 4.2,-0.8 M364.2,277.3 c1.7,-0.1 -1.4,-2.0 2.2,0.6 M376.0,276.4 c-0.1,-2.1 1.3,-2.9 -0.3,1.6 M382.4,278.1 c-1.6,2.1 0.9,2.3 3.7,-0.3 M396.5,274.3 c-1.0,-0.8 -2.6,-0.6 4.6,-2.4 M398.3,278.1 c-2.5,0.9 -1.6,-2.7 -3.5,0.9 M406.2,278.7 c-1.6,2.8 -1.7,0.4 -0.8,1.7 M419.5,273.9 c0.2,-1.9 -1.9,-2.5 3.3,-2.3 M424.1,272.9 c-1.8,2.4 -2.5,-0.2 -2.8,2.0 M435.4,274.8 c1.6,2.2 -0.9,0.6 -0.5,-2.3 M445.4,275.1 c1.9,-1.8 0.2,-0.2 2.3,-2.5 M449.0,275.8 c-2.6,0.3 1.4,-0.5 1.5,0.6 M455.4,276.6 c3.0,-1.0 -0.4,-2.5 -2.8,-2.0 M344.3,268.3 c2.2,2.9 0.7,2.6 0.4,-0.5 M353.9,267.2 c2.7,-0.1 1.6,-0.6 5.0,2.5 M357.0,267.0 c-1.9,-2.4 1.3,-1.2 0.2,0.8 M362.1,268.2 c-1.3,-0.4 -0.9,1.5 2.5,-1.3 M368.2,270.9 c-0.5,-2.5 -2.1,1.6 2.0,2.9 M387.5,267.4 c-0.8,-2.0 -1.1,-0.2 0.3,0.3 M390.5,267.5 c-1.3,-0.2 2.3,1.8 -2.0,-1.5 M397.4,272.6 c-2.2,0.2 0.2,-2.0 -4.5,-1.8 M408.3,269.8 c2.9,1.7 2.9,-2.8 -3.1,-2.9 M413.1,270.6 c-2.7,0.3 -2.4,-1.1 -2.5,1.8 M420.9,271.1 c-2.7,-0.4 0.8,1.1 4.1,1.9 M427.0,271.8 c1.5,1.7 0.1,2.0 0.5,-1.3 M434.0,272.6 c0.9,2.4 2.4,-0.2 1.7,2.6 M451.4,269.0 c-0.5,0.1 -2.0,-1.9 1.8,3.0 M456.3,270.2 c-0.9,-0.3 1.8,-0.3 4.6,-2.1 M463.5,269.5 c-0.5,2.1 2.0,2.6 1.1,-2.8 M346.4,263.3 c-0.1,-1.3 1.3,2.5 -4.0,1.0 M352.8,263.5 c2.4,2.8 0.9,-1.8 4.2,-1.9 M363.2,261.6 c-1.1,-1.4 2.7,2.7 -1.8,-0.6 M366.5,265.8 c-1.5,2.9 -2.5,-1.6 -3.0,-2.5 M380.7,262.1 c2.0,0.8 1.9,-3.0 -2.2,2.8 M382.3,265.0 c-0.1,-1.4 0.3,-2.7 -2.6,2.7 M395.2,261.1 c-1.9,3.0 1.0,0.9 -3.6,-2.7 M404.2,265.5 c-1.9,1.9 2.2,-2.7 4.6,0.2 M409.0,266.0 c-0.7,2.9 -1.3,-2.2 -3.5,-2.2 M422.1,261.1 c-2.5,-1.8 2.6,3.0 4.8,-1.5 M430.7,260.9 c-0.1,1.2 -1.1,-2.9 -1.5,1.5 M440.3,263.2 c-0.2,0.2 -0.3,0.2 3.3,-1.8 M449.4,261.0 c2.1,-1.9 2.8,2.0 -3.3,-1.4 M449.1,266.3 c2.9,-0.5 2.2,-2.3 -4.9,2.2 M468.2,260.6 c1.1,0.2 1.6,-2.4 0.4,-0.4 M468.7,263.0 c-1.1,0.0 -0.8,-1.1 -1.4,0.6 M358.3,254.9 c2.2,2.0 -1.3,2.9 -2.3,-2.3 M361.4,256.1 c-1.0,0.9 -1.3,2.8 -0.5,-0.1 M370.9,255.3 c2.9,0.2 -0.4,0.7 -4.3,-0.4 M381.3,255.8 c-2.6,2.1 -0.7,2.9 -1.3,-1.7 M387.9,255.2 c-0.4,2.2 1.3,-0.8 -2.0,0.0 M391.8,258.3 c0.9,2.3 0.5,-2.1 -2.8,-0.8 M400.6,259.7 c-2.5,-1.1 -1.3,-2.8 0.4,2.5 M412.0,256.1 c2.0,2.0 2.5,-0.4 1.8,-2.3 M421.0,258.3 c-0.1,2.3 -1.3,-1.9 3.2,0.6 M420.6,260.4 c-0.9,-3.0 2.0,-1.9 -2.3,-0.7 M435.0,257.9 c0.8,1.0 -0.4,-2.4 4.8,1.1 M439.9,257.9 c1.5,3.0 -2.6,-2.9 -0.2,-0.5 M457.4,255.6 c-1.0,-0.5 0.5,2.3 -3.0,-0.6 M457.9,256.7 c-2.8,2.6 0.1,0.4 -4.1,-1.6 M470.8,255.4 c0.2,-1.3 2.9,1.0 0.3,-1.8 M478.0,255.1 c-2.2,0.2 0.7,-0.9 2.7,2.5 " fill="none" stroke="#c9c9c9" stroke-width="1.1"/><use href="#mb" transform="translate(308.7,303.2) rotate(15)"/><use href="#mb" transform="translate(318.8,303.3) rotate(-15)"/><use href="#mb" transform="translate(331.1,304.0) rotate(15)"/><use href="#mb" transform="translate(339.8,305.3) rotate(30)"/><use href="#mb" transform="translate(354.4,302.6) rotate(30)"/><use href="#mb" transform="translate(368.1,304.6) rotate(0)"/><use href="#mb" transform="translate(377.5,304.8) rotate(60)"/><use href="#mb" transform="translate(391.6,305.5) rotate(30)"/><use href="#mb" transform="translate(402.0,304.9) rotate(-15)"/><use href="#mb" transform="translate(413.8,304.8) rotate(60)"/><use href="#mb" transform="translate(431.0,303.2) rotate(15)"/><use href="#mb" transform="translate(315.7,293.2) rotate(-30)"/><use href="#mb" transform="translate(327.7,293.1) rotate(15)"/><use href="#mb" transform="translate(340.8,292.4) rotate(-30)"/><use href="#mb" transform="translate(353.1,292.4) rotate(-30)"/><use href="#mb" transform="translate(365.6,292.9) rotate(-30)"/><use href="#mb" transform="translate(375.9,293.7) rotate(-15)"/><use href="#mb" transform="translate(389.1,292.1) rotate(30)"/><use href="#mb" transform="translate(402.7,292.7) rotate(-15)"/><use href="#mb" transform="translate(414.5,293.3) rotate(30)"/><use href="#mb" transform="translate(426.6,292.0) rotate(30)"/><use href="#mb" transform="translate(440.0,291.4) rotate(30)"/><use href="#mb" transform="translate(328.3,283.3) rotate(30)"/><use href="#mb" transform="translate(340.5,281.2) rotate(-30)"/><use href="#mb" transform="translate(351.3,282.5) rotate(15)"/><use href="#mb" transform="translate(366.5,282.1) rotate(-30)"/><use href="#mb" transform="translate(376.8,280.6) rotate(-15)"/><use href="#mb" transform="translate(389.5,281.7) rotate(60)"/><use href="#mb" transform="translate(398.6,283.3) rotate(-30)"/><use href="#mb" transform="translate(414.3,281.7) rotate(60)"/><use href="#mb" transform="translate(427.8,281.9) rotate(30)"/><use href="#mb" transform="translate(440.4,281.2) rotate(-15)"/><use href="#mb" transform="translate(452.0,282.3) rotate(-30)"/><use href="#mb" transform="translate(340.1,271.5) rotate(30)"/><use href="#mb" transform="translate(349.9,272.1) rotate(-15)"/><use href="#mb" transform="translate(365.0,270.8) rotate(30)"/><use href="#mb" transform="translate(376.4,271.6) rotate(15)"/><use href="#mb" transform="translate(388.0,270.3) rotate(15)"/><use href="#mb" transform="translate(400.4,271.1) rotate(30)"/><use href="#mb" transform="translate(412.3,271.4) rotate(60)"/><use href="#mb" transform="translate(422.5,271.1) rotate(15)"/><use href="#mb" transform="translate(435.8,270.5) rotate(0)"/><use href="#mb" transform="translate(447.3,270.9) rotate(30)"/><use href="#mb" transform="translate(463.1,270.9) rotate(30)"/><use href="#mb" transform="translate(349.4,260.1) rotate(60)"/><use href="#mb" transform="translate(363.3,258.5) rotate(0)"/><use href="#mb" transform="translate(372.2,261.3) rotate(-15)"/><use href="#mb" transform="translate(386.0,260.8) rotate(60)"/><use href="#mb" transform="translate(398.0,259.8) rotate(-30)"/><use href="#mb" transform="translate(414.2,259.4) rotate(15)"/><use href="#mb" transform="translate(427.0,259.0) rotate(60)"/><use href="#mb" transform="translate(433.7,261.3) rotate(60)"/><use href="#mb" transform="translate(444.8,261.4) rotate(30)"/><use href="#mb" transform="translate(458.1,261.3) rotate(15)"/><use href="#mb" transform="translate(471.3,259.4) rotate(-15)"/><use href="#mb" transform="translate(300.3,316.4) rotate(20) scale(0.82)"/><use href="#mb" transform="translate(309.6,316.4) rotate(40) scale(0.82)"/><use href="#mb" transform="translate(320.5,316.4) rotate(-40) scale(0.82)"/><use href="#mb" transform="translate(330.5,316.4) rotate(-40) scale(0.82)"/><use href="#mb" transform="translate(340.6,316.4) rotate(40) scale(0.82)"/><use href="#mb" transform="translate(350.6,316.4) rotate(-40) scale(0.82)"/><use href="#mb" transform="translate(360.9,316.4) rotate(40) scale(0.82)"/><use href="#mb" transform="translate(371.0,316.4) rotate(0) scale(0.82)"/><use href="#mb" transform="translate(381.4,316.4) rotate(0) scale(0.82)"/><use href="#mb" transform="translate(391.7,316.4) rotate(20) scale(0.82)"/><use href="#mb" transform="translate(402.5,316.4) rotate(20) scale(0.82)"/><use href="#mb" transform="translate(413.4,316.4) rotate(-20) scale(0.82)"/><use href="#mb" transform="translate(422.7,316.4) rotate(-40) scale(0.82)"/><g fill="#2552a3"><rect x="435.6" y="312.2" width="2.2" height="2.2" rx="0.6"/><rect x="441.2" y="307.8" width="2.2" height="2.2" rx="0.6"/><rect x="446.9" y="300.4" width="2.2" height="2.2" rx="0.6"/><rect x="452.5" y="294.1" width="2.2" height="2.2" rx="0.6"/><rect x="458.1" y="288.8" width="2.2" height="2.2" rx="0.6"/><rect x="463.8" y="285.4" width="2.2" height="2.2" rx="0.6"/><rect x="469.4" y="277.1" width="2.2" height="2.2" rx="0.6"/><rect x="475.0" y="272.6" width="2.2" height="2.2" rx="0.6"/><rect x="480.7" y="266.6" width="2.2" height="2.2" rx="0.6"/><rect x="486.3" y="260.5" width="2.2" height="2.2" rx="0.6"/></g></g>
<g clip-path="url(#cr)"><path d="M661.4,288.0 Q663.4,286.4 664.7,285.9 Q666.1,286.6 669.5,284.6 Q669.7,282.9 672.6,283.4 Q674.7,284.7 675.6,284.3 M701.6,296.3 Q704.1,296.1 707.2,296.9 a1.8,1.8 0 1 1 0.1,0.1 M707.2,296.9 Q710.0,296.9 710.4,294.9 a1.4,1.4 0 1 1 0.1,0.1 M710.4,294.9 Q714.4,292.9 715.7,293.8 Q717.0,293.5 719.3,290.8 a1.9,1.9 0 1 1 0.1,0.1 M719.3,290.8 M675.3,278.1 Q671.7,278.6 670.5,278.6 a1.7,1.7 0 1 1 0.1,0.1 M670.5,278.6 Q669.4,278.2 668.0,277.2 a1.4,1.4 0 1 1 0.1,0.1 M668.0,277.2 Q666.9,275.7 668.0,273.0 Q665.6,271.1 665.9,270.0 M694.8,268.2 Q692.6,270.4 692.1,269.9 Q689.3,270.1 689.4,272.7 a1.4,1.4 0 1 1 0.1,0.1 M689.4,272.7 Q686.9,273.2 685.7,273.7 a1.5,1.5 0 1 1 0.1,0.1 M685.7,273.7 Q683.2,274.9 681.6,274.5 Q679.2,276.8 679.2,277.6 Q675.8,277.3 674.7,278.3 Q674.6,278.8 671.9,277.4 a1.3,1.3 0 1 1 0.1,0.1 M671.9,277.4 Q668.8,277.6 668.5,278.0 M625.7,305.6 Q622.9,305.3 622.7,304.6 Q621.2,305.8 618.5,305.5 Q617.5,305.8 615.3,304.6 Q612.4,304.2 612.2,303.7 a1.7,1.7 0 1 1 0.1,0.1 M612.2,303.7 Q608.9,302.9 607.2,305.1 a1.6,1.6 0 1 1 0.1,0.1 M607.2,305.1 Q604.2,305.4 603.2,305.9 Q598.9,307.7 597.5,306.7 M677.5,280.6 Q680.6,280.4 681.0,282.8 a1.3,1.3 0 1 1 0.1,0.1 M681.0,282.8 Q682.0,283.9 685.5,282.8 Q686.2,283.0 688.4,283.5 Q689.4,284.2 690.3,286.5 M605.0,304.1 Q605.9,301.7 608.8,302.0 Q609.1,301.7 612.3,299.8 a1.8,1.8 0 1 1 0.1,0.1 M612.3,299.8 Q612.4,299.2 612.0,295.7 Q612.5,293.9 613.8,293.8 M625.1,295.5 Q623.0,296.7 621.1,297.8 Q618.7,298.4 617.7,299.0 a1.6,1.6 0 1 1 0.1,0.1 M617.7,299.0 Q615.1,299.5 614.9,298.2 a1.4,1.4 0 1 1 0.1,0.1 M614.9,298.2 Q612.7,295.5 612.2,295.4 a1.4,1.4 0 1 1 0.1,0.1 M612.2,295.4 M727.1,258.3 Q730.0,258.8 730.1,261.7 a1.4,1.4 0 1 1 0.1,0.1 M730.1,261.7 Q730.5,264.2 731.7,264.7 Q733.1,265.8 734.7,266.4 Q735.9,266.5 737.7,267.7 a1.6,1.6 0 1 1 0.1,0.1 M737.7,267.7 M649.0,271.3 Q647.1,272.2 644.7,271.6 Q643.1,270.7 641.2,270.8 a1.6,1.6 0 1 1 0.1,0.1 M641.2,270.8 Q638.0,271.3 635.8,269.8 Q632.9,270.7 631.2,271.4 a1.2,1.2 0 1 1 0.1,0.1 M631.2,271.4 M693.7,304.3 Q690.9,306.0 688.8,305.8 Q686.1,305.8 683.3,306.7 Q681.5,309.0 679.3,309.6 Q678.3,311.9 678.5,312.0 a1.6,1.6 0 1 1 0.1,0.1 M678.5,312.0 M695.1,285.3 Q693.4,284.6 690.7,285.5 a1.8,1.8 0 1 1 0.1,0.1 M690.7,285.5 Q688.6,287.4 686.2,286.6 a1.3,1.3 0 1 1 0.1,0.1 M686.2,286.6 Q682.5,285.3 681.3,286.1 a1.6,1.6 0 1 1 0.1,0.1 M681.3,286.1 Q679.2,285.7 678.9,284.1 Q680.1,282.7 678.6,279.9 Q676.2,278.6 674.5,277.4 M723.7,279.0 Q723.7,280.1 725.1,281.4 Q725.4,282.0 724.8,283.5 a2.0,2.0 0 1 1 0.1,0.1 M724.8,283.5 Q726.8,286.3 728.3,286.2 Q730.0,286.8 732.7,288.0 a1.9,1.9 0 1 1 0.1,0.1 M732.7,288.0 M642.8,283.5 Q641.6,282.9 639.7,280.6 Q638.8,279.4 635.7,278.2 Q631.6,278.2 629.7,278.8 Q627.9,278.0 625.3,277.2 Q624.0,278.1 621.2,277.0 M736.4,270.0 Q734.9,269.2 733.6,270.7 a1.4,1.4 0 1 1 0.1,0.1 M733.6,270.7 Q733.4,271.7 730.6,273.5 Q729.9,274.0 728.8,277.3 Q727.7,279.4 729.5,279.4 M659.4,278.9 Q655.7,277.9 654.6,276.5 Q654.5,276.3 653.3,273.8 a1.6,1.6 0 1 1 0.1,0.1 M653.3,273.8 Q655.3,272.2 654.5,271.8 Q654.6,270.6 654.5,268.0 a1.9,1.9 0 1 1 0.1,0.1 M654.5,268.0 Q655.0,265.8 657.3,265.0 Q656.4,264.4 656.1,261.0 a1.7,1.7 0 1 1 0.1,0.1 M656.1,261.0 Q656.6,258.0 657.7,257.8 M682.0,259.8 Q682.9,258.3 685.1,259.7 a1.7,1.7 0 1 1 0.1,0.1 M685.1,259.7 Q686.8,258.1 689.1,257.9 Q690.4,256.6 691.6,254.3 a1.8,1.8 0 1 1 0.1,0.1 M691.6,254.3 Q693.1,254.3 694.8,253.3 Q696.7,253.9 699.8,253.4 Q702.5,253.2 704.5,253.2 a1.5,1.5 0 1 1 0.1,0.1 M704.5,253.2 Q705.6,254.0 709.2,254.8 M657.8,299.0 Q659.5,299.8 661.1,299.4 Q663.9,299.3 666.4,300.6 Q668.6,301.2 671.9,300.3 Q673.6,300.7 676.3,303.1 Q678.2,302.5 681.1,304.5 Q680.6,305.9 682.5,307.0 a1.2,1.2 0 1 1 0.1,0.1 M682.5,307.0 Q683.2,307.5 685.0,309.6 a1.5,1.5 0 1 1 0.1,0.1 M685.0,309.6 Q685.6,311.9 688.2,313.1 a1.3,1.3 0 1 1 0.1,0.1 M688.2,313.1 M636.5,273.7 Q634.4,273.4 634.3,271.0 a2.0,2.0 0 1 1 0.1,0.1 M634.3,271.0 Q630.7,270.8 629.1,269.7 a1.4,1.4 0 1 1 0.1,0.1 M629.1,269.7 Q626.2,268.7 625.2,267.4 a2.0,2.0 0 1 1 0.1,0.1 M625.2,267.4 Q623.8,264.9 622.9,264.8 a1.3,1.3 0 1 1 0.1,0.1 M622.9,264.8 Q622.8,262.6 622.2,261.2 Q621.3,260.1 619.8,259.6 M640.0,295.5 Q638.0,294.0 638.6,293.4 Q637.3,293.6 636.3,291.4 Q635.8,289.2 634.7,289.0 a1.8,1.8 0 1 1 0.1,0.1 M634.7,289.0 Q634.4,287.1 632.1,287.4 a1.3,1.3 0 1 1 0.1,0.1 M632.1,287.4 Q630.8,284.4 631.3,283.9 Q630.0,283.0 627.6,281.5 Q626.4,279.7 624.4,280.0 Q623.6,279.9 620.4,279.5 M662.6,306.3 Q666.5,306.3 667.7,307.7 a1.5,1.5 0 1 1 0.1,0.1 M667.7,307.7 Q668.1,305.6 671.0,306.5 Q672.5,305.6 671.9,303.5 a1.8,1.8 0 1 1 0.1,0.1 M671.9,303.5 Q671.3,301.8 669.9,299.9 Q672.0,297.9 671.7,297.7 a1.4,1.4 0 1 1 0.1,0.1 M671.7,297.7 M638.8,265.4 Q641.6,266.3 642.0,264.9 Q642.9,263.0 644.5,263.6 a1.5,1.5 0 1 1 0.1,0.1 M644.5,263.6 Q645.5,261.5 644.7,260.9 a1.2,1.2 0 1 1 0.1,0.1 M644.7,260.9 Q643.5,258.7 641.1,258.6 Q639.7,257.1 638.6,255.9 Q636.9,254.2 636.8,252.7 a1.2,1.2 0 1 1 0.1,0.1 M636.8,252.7 M661.7,299.4 Q660.1,299.8 657.7,299.3 a1.9,1.9 0 1 1 0.1,0.1 M657.7,299.3 Q657.4,299.0 655.0,301.1 a1.5,1.5 0 1 1 0.1,0.1 M655.0,301.1 Q651.2,301.4 649.1,300.8 Q646.1,299.4 645.1,300.6 a1.2,1.2 0 1 1 0.1,0.1 M645.1,300.6 Q641.7,301.1 640.9,299.0 Q640.1,299.1 637.1,298.1 M649.2,270.5 Q645.8,271.3 645.2,269.2 Q642.7,270.2 641.2,270.3 a1.7,1.7 0 1 1 0.1,0.1 M641.2,270.3 Q638.7,270.4 637.6,269.3 Q635.7,268.7 634.6,268.8 a1.6,1.6 0 1 1 0.1,0.1 M634.6,268.8 M631.7,271.4 Q628.9,271.5 628.4,272.2 Q625.8,273.1 624.2,274.0 Q620.9,273.2 618.5,273.1 Q615.4,271.0 614.7,270.2 Q614.1,269.1 610.8,268.7 Q608.6,267.5 606.1,268.1 a1.8,1.8 0 1 1 0.1,0.1 M606.1,268.1 Q603.8,266.0 603.2,266.2 M701.6,260.3 Q701.4,260.8 704.0,262.5 Q705.2,262.7 703.8,264.7 a1.7,1.7 0 1 1 0.1,0.1 M703.8,264.7 Q700.9,264.7 699.6,267.3 Q697.4,268.0 696.5,270.2 Q695.2,272.0 694.7,272.3 a1.5,1.5 0 1 1 0.1,0.1 M694.7,272.3 Q695.6,275.6 695.9,276.2 a1.4,1.4 0 1 1 0.1,0.1 M695.9,276.2 Q696.6,279.5 695.6,279.8 Q696.3,282.3 694.2,282.7 M651.2,264.9 Q649.7,264.7 648.1,264.5 Q644.6,264.0 643.7,266.3 a2.0,2.0 0 1 1 0.1,0.1 M643.7,266.3 Q641.3,268.2 641.5,269.5 a1.7,1.7 0 1 1 0.1,0.1 M641.5,269.5 Q639.8,271.3 637.7,271.8 a1.2,1.2 0 1 1 0.1,0.1 M637.7,271.8 M641.3,284.1 Q639.9,281.3 638.9,281.4 a2.0,2.0 0 1 1 0.1,0.1 M638.9,281.4 Q637.3,280.7 635.3,280.7 Q633.1,280.5 630.1,282.6 Q630.6,283.9 628.6,284.7 a1.4,1.4 0 1 1 0.1,0.1 M628.6,284.7 Q624.7,285.3 623.5,286.9 a2.0,2.0 0 1 1 0.1,0.1 M623.5,286.9 M701.1,295.8 Q698.2,297.0 696.1,297.0 a1.3,1.3 0 1 1 0.1,0.1 M696.1,297.0 Q692.8,297.5 690.6,296.9 a1.3,1.3 0 1 1 0.1,0.1 M690.6,296.9 Q687.7,298.3 686.6,297.2 a1.6,1.6 0 1 1 0.1,0.1 M686.6,297.2 Q685.8,297.8 683.0,299.2 a1.3,1.3 0 1 1 0.1,0.1 M683.0,299.2 Q680.4,298.5 677.7,300.1 a1.4,1.4 0 1 1 0.1,0.1 M677.7,300.1 Q676.5,299.9 674.9,301.0 Q674.7,299.7 671.7,301.1 M685.2,282.0 Q682.6,282.5 681.2,281.7 Q680.0,283.6 677.3,283.3 a1.6,1.6 0 1 1 0.1,0.1 M677.3,283.3 Q677.1,284.3 674.3,282.8 a1.8,1.8 0 1 1 0.1,0.1 M674.3,282.8 Q671.8,283.1 669.6,285.1 a2.0,2.0 0 1 1 0.1,0.1 M669.6,285.1 Q667.5,286.6 665.8,286.8 Q665.1,287.9 662.5,288.7 Q663.6,290.9 662.5,291.8 a1.7,1.7 0 1 1 0.1,0.1 M662.5,291.8 M631.7,272.2 Q629.5,271.0 628.5,269.0 Q628.4,267.7 625.3,268.8 Q623.1,270.2 621.6,269.2 Q619.3,271.6 617.9,272.0 Q615.2,273.8 613.3,272.6 M677.7,280.6 Q681.3,280.5 682.7,278.7 Q682.4,277.0 684.6,276.0 a1.7,1.7 0 1 1 0.1,0.1 M684.6,276.0 Q686.2,274.5 687.4,275.1 Q686.5,273.1 688.4,272.6 Q691.3,270.4 691.4,270.4 a1.7,1.7 0 1 1 0.1,0.1 M691.4,270.4 Q693.8,269.8 695.7,268.2 M653.8,295.4 Q656.2,296.0 657.9,296.1 Q659.6,298.6 660.4,298.4 a1.9,1.9 0 1 1 0.1,0.1 M660.4,298.4 Q659.6,299.9 661.6,301.3 a1.4,1.4 0 1 1 0.1,0.1 M661.6,301.3 Q663.6,303.3 663.0,304.6 Q662.8,304.5 663.6,306.7 Q664.4,306.8 666.2,309.6 a1.9,1.9 0 1 1 0.1,0.1 M666.2,309.6 M674.4,273.7 Q673.5,272.0 670.9,271.3 a1.2,1.2 0 1 1 0.1,0.1 M670.9,271.3 Q669.1,270.3 668.7,269.6 Q668.0,269.3 664.7,268.7 Q665.2,267.7 663.0,265.5 Q662.6,262.9 662.0,261.3 Q661.6,259.3 658.6,259.5 Q657.4,258.4 654.0,258.4 M608.8,294.6 Q610.0,296.5 612.5,296.4 Q614.0,297.6 614.7,299.5 Q617.4,300.3 617.9,302.3 Q618.6,301.9 621.1,302.7 Q622.6,303.8 626.8,302.6 a1.4,1.4 0 1 1 0.1,0.1 M626.8,302.6 Q629.2,301.1 631.2,302.3 Q631.6,301.4 633.3,300.4 M598.7,304.9 Q597.6,305.4 593.6,303.1 a1.7,1.7 0 1 1 0.1,0.1 M593.6,303.1 Q592.0,303.8 589.1,303.8 Q588.3,305.3 585.2,305.0 a1.5,1.5 0 1 1 0.1,0.1 M585.2,305.0 Q584.6,306.1 582.0,304.9 M633.7,279.2 Q635.3,280.8 638.4,279.9 Q641.1,281.1 643.1,282.4 Q643.2,284.2 645.5,283.8 Q645.6,285.6 647.4,286.3 Q647.7,286.3 649.6,288.9 M688.6,268.3 Q686.1,269.3 683.8,269.9 Q682.4,272.0 679.7,272.5 Q677.5,272.0 675.2,273.3 Q674.4,273.4 671.5,275.4 Q670.4,274.9 667.8,275.5 a1.3,1.3 0 1 1 0.1,0.1 M667.8,275.5 Q666.1,277.1 663.0,276.3 Q661.4,275.6 657.9,276.7 M686.3,263.2 Q689.3,263.3 689.4,263.9 Q692.0,265.3 693.1,264.0 Q695.3,264.2 698.3,263.4 a1.6,1.6 0 1 1 0.1,0.1 M698.3,263.4 Q700.2,264.1 701.2,262.1 a1.8,1.8 0 1 1 0.1,0.1 M701.2,262.1 Q701.0,260.0 702.5,258.9 a1.8,1.8 0 1 1 0.1,0.1 M702.5,258.9 Q700.2,256.8 700.3,255.6 M619.2,290.4 Q620.9,290.9 624.2,292.7 Q623.7,293.9 626.0,295.2 Q625.7,297.6 625.1,298.4 Q625.2,299.2 624.0,300.4 Q621.7,303.2 621.5,303.7 a1.9,1.9 0 1 1 0.1,0.1 M621.5,303.7 M685.3,304.6 Q686.5,306.2 689.8,306.1 a1.8,1.8 0 1 1 0.1,0.1 M689.8,306.1 Q691.7,305.0 692.7,305.5 a1.4,1.4 0 1 1 0.1,0.1 M692.7,305.5 Q695.7,304.4 695.7,304.4 a1.6,1.6 0 1 1 0.1,0.1 M695.7,304.4 Q697.6,303.6 698.9,303.9 Q700.9,303.5 703.0,302.2 Q706.2,301.5 707.5,302.2 M735.3,259.7 Q738.3,260.1 739.9,261.4 Q741.2,261.7 742.8,264.1 Q745.7,264.4 746.6,264.6 Q750.0,263.2 751.7,264.4 Q754.7,265.0 755.7,264.3 Q756.0,263.6 758.7,264.8 a1.7,1.7 0 1 1 0.1,0.1 M758.7,264.8 Q762.1,264.7 764.2,263.2 M646.0,274.2 Q649.6,273.5 650.4,273.3 a1.7,1.7 0 1 1 0.1,0.1 M650.4,273.3 Q653.0,271.9 655.4,272.0 Q659.2,273.9 660.0,273.7 Q662.0,274.4 664.7,273.2 a1.4,1.4 0 1 1 0.1,0.1 M664.7,273.2 Q667.2,272.4 667.6,273.9 a1.6,1.6 0 1 1 0.1,0.1 M667.6,273.9 Q668.7,273.1 672.4,275.2 Q674.0,274.8 677.8,276.1 Q681.5,276.3 683.2,277.4 a1.5,1.5 0 1 1 0.1,0.1 M683.2,277.4 M645.6,280.7 Q642.0,281.2 640.1,281.7 a1.4,1.4 0 1 1 0.1,0.1 M640.1,281.7 Q637.9,283.9 636.1,284.4 a1.8,1.8 0 1 1 0.1,0.1 M636.1,284.4 Q633.5,285.0 631.4,286.9 a1.8,1.8 0 1 1 0.1,0.1 M631.4,286.9 Q630.0,287.6 628.4,287.2 Q627.4,288.2 625.7,289.4 Q625.8,292.1 626.5,292.4 M710.9,284.0 Q713.4,283.8 716.0,284.2 a1.3,1.3 0 1 1 0.1,0.1 M716.0,284.2 Q719.6,282.8 720.5,283.3 Q723.0,283.7 725.6,284.3 Q726.2,286.8 729.8,286.9 Q729.5,289.3 730.4,289.7 M658.5,285.6 Q656.6,284.3 655.1,286.0 a1.9,1.9 0 1 1 0.1,0.1 M655.1,286.0 Q654.1,287.1 650.7,286.1 Q648.3,284.6 646.3,283.9 Q643.3,282.8 641.4,281.9 Q640.9,279.1 638.0,278.7 a1.9,1.9 0 1 1 0.1,0.1 M638.0,278.7 M627.0,302.8 Q629.9,304.5 630.6,303.3 Q630.8,303.6 633.6,304.3 Q635.5,306.4 637.7,307.2 Q638.1,308.3 640.7,307.8 Q641.9,309.4 645.4,310.3 Q647.4,312.1 649.1,312.1 Q651.1,313.6 650.7,314.7 Q651.5,317.0 652.6,318.0 M618.1,283.4 Q615.6,283.9 614.5,283.3 Q613.2,281.6 609.1,282.4 a1.6,1.6 0 1 1 0.1,0.1 M609.1,282.4 Q607.6,282.9 604.6,281.4 Q603.2,281.2 601.8,279.9 M703.5,274.8 Q703.7,277.1 705.5,278.7 Q705.3,278.8 704.7,281.6 Q707.0,282.0 707.4,284.1 a1.7,1.7 0 1 1 0.1,0.1 M707.4,284.1 Q711.0,283.7 711.8,284.7 Q713.9,286.4 716.0,285.3 a1.7,1.7 0 1 1 0.1,0.1 M716.0,285.3 Q717.1,286.4 719.4,285.2 Q720.9,285.1 725.2,284.6 M715.1,290.9 Q717.0,289.9 718.6,289.8 Q721.6,291.7 722.4,290.6 Q724.9,291.0 727.3,291.4 a1.7,1.7 0 1 1 0.1,0.1 M727.3,291.4 Q727.7,291.3 730.6,290.8 a1.9,1.9 0 1 1 0.1,0.1 M730.6,290.8 Q731.7,291.5 734.3,292.2 Q735.8,295.1 736.0,295.2 Q735.5,297.0 735.6,298.4 M703.7,284.8 Q701.7,284.5 700.7,285.4 Q698.2,284.6 696.9,284.7 a1.4,1.4 0 1 1 0.1,0.1 M696.9,284.7 Q695.7,283.6 693.4,285.1 Q691.2,285.2 689.8,284.5 Q686.8,286.0 685.0,286.0 Q683.1,287.3 682.2,287.5 Q681.2,287.3 680.8,289.9 Q678.1,291.2 678.0,291.1 M709.1,282.7 Q709.5,283.4 710.6,285.6 a1.8,1.8 0 1 1 0.1,0.1 M710.6,285.6 Q711.5,287.3 712.7,289.1 Q712.2,291.7 710.1,292.5 a1.7,1.7 0 1 1 0.1,0.1 M710.1,292.5 Q709.4,294.2 706.5,295.7 a1.3,1.3 0 1 1 0.1,0.1 M706.5,295.7 Q706.9,296.5 704.8,297.5 Q702.1,299.4 701.5,299.9 M665.9,286.3 Q669.0,285.3 669.8,284.3 Q672.9,284.8 675.8,284.5 Q678.3,286.0 679.2,287.0 Q680.8,287.8 679.9,289.3 Q679.7,290.8 678.7,291.4 Q677.5,293.1 676.7,294.6 Q676.2,296.2 672.9,296.8 Q671.6,298.6 668.7,298.3 M618.1,286.9 Q620.9,287.1 623.5,287.4 a1.5,1.5 0 1 1 0.1,0.1 M623.5,287.4 Q625.0,287.4 626.4,288.8 a1.4,1.4 0 1 1 0.1,0.1 M626.4,288.8 Q628.2,290.3 631.5,289.4 a2.0,2.0 0 1 1 0.1,0.1 M631.5,289.4 Q632.8,289.2 635.6,292.1 Q638.0,292.4 638.1,293.9 a1.8,1.8 0 1 1 0.1,0.1 M638.1,293.9 M678.5,298.4 Q679.9,295.9 682.4,295.4 Q684.4,294.9 686.0,293.4 Q686.3,291.1 688.6,291.2 a1.3,1.3 0 1 1 0.1,0.1 M688.6,291.2 Q690.5,290.9 691.7,290.5 Q692.9,290.9 695.9,290.5 a1.4,1.4 0 1 1 0.1,0.1 M695.9,290.5 M729.3,264.4 Q731.5,267.0 730.7,266.6 Q732.4,266.8 734.0,269.6 a1.3,1.3 0 1 1 0.1,0.1 M734.0,269.6 Q737.5,270.3 738.4,270.0 Q741.6,271.0 742.0,269.1 Q744.5,268.6 745.9,267.5 Q747.6,266.6 749.9,266.6 Q752.1,265.5 753.2,266.5 Q754.4,265.3 756.9,265.7 a1.5,1.5 0 1 1 0.1,0.1 M756.9,265.7 M642.6,287.4 Q642.5,286.2 645.4,286.2 a1.8,1.8 0 1 1 0.1,0.1 M645.4,286.2 Q644.7,283.5 646.8,283.4 Q648.8,280.8 650.3,281.1 Q651.7,279.1 652.0,277.7 Q649.5,277.6 649.7,275.0 a1.8,1.8 0 1 1 0.1,0.1 M649.7,275.0 Q648.0,273.3 648.0,271.9 Q645.5,269.5 644.7,269.2 Q642.1,267.6 639.0,268.5 M658.2,300.3 Q661.6,301.5 662.4,303.0 a1.8,1.8 0 1 1 0.1,0.1 M662.4,303.0 Q663.2,304.0 666.1,304.6 Q668.8,305.6 670.1,307.0 Q672.6,307.5 674.3,308.2 Q675.3,308.0 678.2,307.5 a1.9,1.9 0 1 1 0.1,0.1 M678.2,307.5 Q679.6,306.0 680.7,303.9 a1.2,1.2 0 1 1 0.1,0.1 M680.7,303.9 M708.1,269.3 Q707.9,270.2 709.8,272.1 Q710.6,274.4 711.8,273.7 a1.5,1.5 0 1 1 0.1,0.1 M711.8,273.7 Q714.7,274.2 715.6,274.4 Q717.7,272.8 719.6,273.2 M679.9,267.4 Q680.1,267.3 683.1,269.0 Q682.8,271.0 685.3,272.4 a1.4,1.4 0 1 1 0.1,0.1 M685.3,272.4 Q686.9,274.0 686.5,275.6 Q684.3,277.3 684.4,278.9 a1.5,1.5 0 1 1 0.1,0.1 M684.4,278.9 Q684.0,280.5 681.1,280.6 " fill="none" stroke="#c9c9c9" stroke-width="1.4" stroke-linejoin="round" stroke-linecap="round"/><path d="M639.1,290.8 l0.6,2.2 M702.0,282.1 l-0.2,2.2 M662.8,289.2 l-0.8,2.2 M683.2,257.9 l0.6,2.2 M676.9,271.9 l0.3,2.2 M653.5,260.7 l0.2,2.2 M619.0,279.4 l-0.4,2.2 M715.6,256.2 l-0.4,2.2 M712.9,265.7 l0.1,2.2 M685.8,265.7 l0.1,2.2 M675.6,276.7 l-0.6,2.2 M735.7,259.9 l-0.2,2.2 M655.2,298.6 l-0.0,2.2 M615.3,299.4 l-0.2,2.2 M735.4,271.5 l-0.5,2.2 M687.5,273.5 l-0.2,2.2 M750.2,258.9 l-0.1,2.2 M715.8,258.1 l0.7,2.2 M707.6,290.4 l0.8,2.2 M683.1,293.8 l0.1,2.2 M673.6,275.7 l0.5,2.2 M636.8,269.8 l0.7,2.2 M643.4,268.2 l0.1,2.2 M685.2,284.0 l0.3,2.2 M621.9,306.5 l-0.5,2.2 M597.5,303.2 l-0.6,2.2 M625.9,278.0 l0.5,2.2 M648.6,272.8 l0.1,2.2 M606.5,298.4 l0.1,2.2 M722.6,259.8 l-0.7,2.2 M680.0,268.4 l-0.1,2.2 M634.1,299.6 l-0.4,2.2 M671.5,302.6 l-0.5,2.2 M650.3,269.7 l-0.7,2.2 M721.0,276.9 l0.8,2.2 M679.3,282.9 l0.1,2.2 M693.0,299.2 l-0.7,2.2 M643.9,296.1 l0.8,2.2 M730.4,280.3 l0.1,2.2 M612.2,299.4 l-0.4,2.2 M677.7,268.2 l-0.3,2.2 M638.8,305.7 l0.4,2.2 M690.9,270.9 l-0.5,2.2 M657.5,284.6 l0.2,2.2 M631.6,273.2 l0.1,2.2 M641.2,291.2 l0.7,2.2 M640.9,267.7 l0.4,2.2 M646.4,304.5 l-0.3,2.2 M750.2,257.7 l-0.6,2.2 M718.7,256.8 l-0.6,2.2 M732.0,276.7 l-0.6,2.2 M653.3,277.3 l-0.6,2.2 M662.6,264.9 l-0.5,2.2 M726.5,259.9 l0.7,2.2 M611.9,292.6 l-0.2,2.2 M641.8,307.2 l0.0,2.2 M650.7,262.5 l0.3,2.2 M656.6,276.5 l-0.5,2.2 M718.0,283.2 l-0.1,2.2 M660.9,294.9 l-0.4,2.2 M740.2,265.8 l0.1,2.2 M624.4,276.6 l0.6,2.2 M608.8,291.5 l0.8,2.2 M711.8,292.5 l-0.8,2.2 M640.6,291.4 l-0.5,2.2 M682.3,274.9 l0.4,2.2 M710.8,273.5 l-0.6,2.2 M653.6,285.3 l0.3,2.2 M619.4,278.6 l0.2,2.2 M703.5,262.4 l0.4,2.2 M640.6,260.7 l-0.4,2.2 M644.1,284.4 l0.6,2.2 M634.6,297.1 l-0.3,2.2 M606.1,292.0 l-0.3,2.2 M729.9,266.4 l-0.7,2.2 M690.4,266.9 l-0.7,2.2 M637.8,277.5 l-0.2,2.2 M715.0,281.7 l0.6,2.2 M683.9,274.1 l-0.8,2.2 M674.1,289.2 l-0.1,2.2 M666.3,268.4 l-0.3,2.2 M676.9,268.7 l0.0,2.2 M660.5,278.6 l-0.8,2.2 M655.6,307.8 l0.3,2.2 M619.6,302.2 l0.1,2.2 M707.6,263.3 l0.5,2.2 M615.2,296.1 l0.0,2.2 M716.3,286.2 l0.3,2.2 M665.5,270.9 l-0.8,2.2 M656.5,276.5 l0.4,2.2 M650.1,298.7 l0.1,2.2 M729.4,281.6 l0.2,2.2 M723.8,269.2 l0.5,2.2 M692.4,279.6 l0.6,2.2 M703.2,279.4 l-0.6,2.2 M626.2,288.9 l0.8,2.2 M722.4,274.0 l0.2,2.2 M631.5,301.8 l-0.7,2.2 M684.1,287.4 l-0.7,2.2 M681.9,287.2 l0.5,2.2 M683.0,308.3 l-0.8,2.2 M653.2,300.7 l-0.1,2.2 M706.2,291.6 l-0.6,2.2 M675.9,301.2 l0.8,2.2 M726.2,265.6 l0.1,2.2 M663.6,266.6 l-0.6,2.2 M667.6,302.3 l-0.8,2.2 M749.3,257.4 l0.8,2.2 M649.3,291.5 l0.3,2.2 M669.1,264.1 l0.7,2.2 M610.2,306.5 l-0.3,2.2 M672.8,267.7 l-0.0,2.2 M682.8,258.8 l-0.8,2.2 M597.6,307.8 l-0.8,2.2 M727.2,271.7 l0.7,2.2 M659.0,262.4 l-0.6,2.2 M695.9,259.6 l-0.0,2.2 M620.9,281.4 l-0.2,2.2 M657.0,298.6 l-0.4,2.2 M675.1,304.1 l-0.7,2.2 M719.9,288.2 l-0.3,2.2 M662.0,277.5 l-0.8,2.2 M706.7,256.4 l-0.0,2.2 M745.4,259.4 l-0.1,2.2 M629.7,306.6 l0.0,2.2 " stroke="#b5b5b5" stroke-width="0.8" fill="none"/><g fill="#2b5597"><rect x="638.2" y="289.1" width="1.9" height="1.8" rx="0.6"/><rect x="701.1" y="280.4" width="1.9" height="1.8" rx="0.6"/><rect x="661.9" y="287.5" width="1.9" height="1.8" rx="0.6"/><rect x="682.3" y="256.2" width="1.9" height="1.8" rx="0.6"/><rect x="676.0" y="270.2" width="1.9" height="1.8" rx="0.6"/><rect x="652.6" y="259.0" width="1.9" height="1.8" rx="0.6"/><rect x="618.1" y="277.7" width="1.9" height="1.8" rx="0.6"/><rect x="714.7" y="254.5" width="1.9" height="1.8" rx="0.6"/><rect x="712.0" y="264.0" width="1.9" height="1.8" rx="0.6"/><rect x="684.9" y="264.0" width="1.9" height="1.8" rx="0.6"/><rect x="674.7" y="275.0" width="1.9" height="1.8" rx="0.6"/><rect x="734.8" y="258.2" width="1.9" height="1.8" rx="0.6"/><rect x="654.3" y="296.9" width="1.9" height="1.8" rx="0.6"/><rect x="614.4" y="297.7" width="1.9" height="1.8" rx="0.6"/><rect x="734.5" y="269.8" width="1.9" height="1.8" rx="0.6"/><rect x="686.6" y="271.8" width="1.9" height="1.8" rx="0.6"/><rect x="749.3" y="257.2" width="1.9" height="1.8" rx="0.6"/><rect x="714.9" y="256.4" width="1.9" height="1.8" rx="0.6"/><rect x="706.7" y="288.7" width="1.9" height="1.8" rx="0.6"/><rect x="682.2" y="292.1" width="1.9" height="1.8" rx="0.6"/><rect x="672.7" y="274.0" width="1.9" height="1.8" rx="0.6"/><rect x="635.9" y="268.1" width="1.9" height="1.8" rx="0.6"/><rect x="642.5" y="266.5" width="1.9" height="1.8" rx="0.6"/><rect x="684.3" y="282.3" width="1.9" height="1.8" rx="0.6"/><rect x="621.0" y="304.8" width="1.9" height="1.8" rx="0.6"/><rect x="596.6" y="301.5" width="1.9" height="1.8" rx="0.6"/><rect x="625.0" y="276.3" width="1.9" height="1.8" rx="0.6"/><rect x="647.7" y="271.1" width="1.9" height="1.8" rx="0.6"/><rect x="605.6" y="296.7" width="1.9" height="1.8" rx="0.6"/><rect x="721.7" y="258.1" width="1.9" height="1.8" rx="0.6"/><rect x="679.1" y="266.7" width="1.9" height="1.8" rx="0.6"/><rect x="633.2" y="297.9" width="1.9" height="1.8" rx="0.6"/><rect x="670.6" y="300.9" width="1.9" height="1.8" rx="0.6"/><rect x="649.4" y="268.0" width="1.9" height="1.8" rx="0.6"/><rect x="720.1" y="275.2" width="1.9" height="1.8" rx="0.6"/><rect x="678.4" y="281.2" width="1.9" height="1.8" rx="0.6"/><rect x="692.1" y="297.5" width="1.9" height="1.8" rx="0.6"/><rect x="643.0" y="294.4" width="1.9" height="1.8" rx="0.6"/><rect x="729.5" y="278.6" width="1.9" height="1.8" rx="0.6"/><rect x="611.3" y="297.7" width="1.9" height="1.8" rx="0.6"/><rect x="676.8" y="266.5" width="1.9" height="1.8" rx="0.6"/><rect x="637.9" y="304.0" width="1.9" height="1.8" rx="0.6"/><rect x="690.0" y="269.2" width="1.9" height="1.8" rx="0.6"/><rect x="656.6" y="282.9" width="1.9" height="1.8" rx="0.6"/><rect x="630.7" y="271.5" width="1.9" height="1.8" rx="0.6"/><rect x="640.3" y="289.5" width="1.9" height="1.8" rx="0.6"/><rect x="640.0" y="266.0" width="1.9" height="1.8" rx="0.6"/><rect x="645.5" y="302.8" width="1.9" height="1.8" rx="0.6"/><rect x="749.3" y="256.0" width="1.9" height="1.8" rx="0.6"/><rect x="717.8" y="255.1" width="1.9" height="1.8" rx="0.6"/><rect x="731.1" y="275.0" width="1.9" height="1.8" rx="0.6"/><rect x="652.4" y="275.6" width="1.9" height="1.8" rx="0.6"/><rect x="661.7" y="263.2" width="1.9" height="1.8" rx="0.6"/><rect x="725.6" y="258.2" width="1.9" height="1.8" rx="0.6"/><rect x="611.0" y="290.9" width="1.9" height="1.8" rx="0.6"/><rect x="640.9" y="305.5" width="1.9" height="1.8" rx="0.6"/><rect x="649.8" y="260.8" width="1.9" height="1.8" rx="0.6"/><rect x="655.7" y="274.8" width="1.9" height="1.8" rx="0.6"/><rect x="717.1" y="281.5" width="1.9" height="1.8" rx="0.6"/><rect x="660.0" y="293.2" width="1.9" height="1.8" rx="0.6"/><rect x="739.3" y="264.1" width="1.9" height="1.8" rx="0.6"/><rect x="623.5" y="274.9" width="1.9" height="1.8" rx="0.6"/><rect x="607.9" y="289.8" width="1.9" height="1.8" rx="0.6"/><rect x="710.9" y="290.8" width="1.9" height="1.8" rx="0.6"/><rect x="639.7" y="289.7" width="1.9" height="1.8" rx="0.6"/><rect x="681.4" y="273.2" width="1.9" height="1.8" rx="0.6"/><rect x="709.9" y="271.8" width="1.9" height="1.8" rx="0.6"/><rect x="652.7" y="283.6" width="1.9" height="1.8" rx="0.6"/><rect x="618.5" y="276.9" width="1.9" height="1.8" rx="0.6"/><rect x="702.6" y="260.7" width="1.9" height="1.8" rx="0.6"/><rect x="639.7" y="259.0" width="1.9" height="1.8" rx="0.6"/><rect x="643.2" y="282.7" width="1.9" height="1.8" rx="0.6"/><rect x="633.7" y="295.4" width="1.9" height="1.8" rx="0.6"/><rect x="605.2" y="290.3" width="1.9" height="1.8" rx="0.6"/><rect x="729.0" y="264.7" width="1.9" height="1.8" rx="0.6"/><rect x="689.5" y="265.2" width="1.9" height="1.8" rx="0.6"/><rect x="636.9" y="275.8" width="1.9" height="1.8" rx="0.6"/><rect x="714.1" y="280.0" width="1.9" height="1.8" rx="0.6"/><rect x="683.0" y="272.4" width="1.9" height="1.8" rx="0.6"/><rect x="673.2" y="287.5" width="1.9" height="1.8" rx="0.6"/><rect x="665.4" y="266.7" width="1.9" height="1.8" rx="0.6"/><rect x="676.0" y="267.0" width="1.9" height="1.8" rx="0.6"/><rect x="659.6" y="276.9" width="1.9" height="1.8" rx="0.6"/><rect x="654.7" y="306.1" width="1.9" height="1.8" rx="0.6"/><rect x="618.7" y="300.5" width="1.9" height="1.8" rx="0.6"/><rect x="706.7" y="261.6" width="1.9" height="1.8" rx="0.6"/><rect x="614.3" y="294.4" width="1.9" height="1.8" rx="0.6"/><rect x="715.4" y="284.5" width="1.9" height="1.8" rx="0.6"/><rect x="664.6" y="269.2" width="1.9" height="1.8" rx="0.6"/><rect x="655.6" y="274.8" width="1.9" height="1.8" rx="0.6"/><rect x="649.2" y="297.0" width="1.9" height="1.8" rx="0.6"/><rect x="728.5" y="279.9" width="1.9" height="1.8" rx="0.6"/><rect x="722.9" y="267.5" width="1.9" height="1.8" rx="0.6"/><rect x="691.5" y="277.9" width="1.9" height="1.8" rx="0.6"/><rect x="702.3" y="277.7" width="1.9" height="1.8" rx="0.6"/><rect x="625.3" y="287.2" width="1.9" height="1.8" rx="0.6"/><rect x="721.5" y="272.3" width="1.9" height="1.8" rx="0.6"/><rect x="630.6" y="300.1" width="1.9" height="1.8" rx="0.6"/><rect x="683.2" y="285.7" width="1.9" height="1.8" rx="0.6"/><rect x="681.0" y="285.5" width="1.9" height="1.8" rx="0.6"/><rect x="682.1" y="306.6" width="1.9" height="1.8" rx="0.6"/><rect x="652.3" y="299.0" width="1.9" height="1.8" rx="0.6"/><rect x="705.3" y="289.9" width="1.9" height="1.8" rx="0.6"/><rect x="675.0" y="299.5" width="1.9" height="1.8" rx="0.6"/><rect x="725.3" y="263.9" width="1.9" height="1.8" rx="0.6"/><rect x="662.7" y="264.9" width="1.9" height="1.8" rx="0.6"/><rect x="666.7" y="300.6" width="1.9" height="1.8" rx="0.6"/><rect x="748.4" y="255.7" width="1.9" height="1.8" rx="0.6"/><rect x="648.4" y="289.8" width="1.9" height="1.8" rx="0.6"/><rect x="668.2" y="262.4" width="1.9" height="1.8" rx="0.6"/><rect x="609.3" y="304.8" width="1.9" height="1.8" rx="0.6"/><rect x="671.9" y="266.0" width="1.9" height="1.8" rx="0.6"/><rect x="681.9" y="257.1" width="1.9" height="1.8" rx="0.6"/><rect x="596.7" y="306.1" width="1.9" height="1.8" rx="0.6"/><rect x="726.3" y="270.0" width="1.9" height="1.8" rx="0.6"/><rect x="658.1" y="260.7" width="1.9" height="1.8" rx="0.6"/><rect x="695.0" y="257.9" width="1.9" height="1.8" rx="0.6"/><rect x="620.0" y="279.7" width="1.9" height="1.8" rx="0.6"/><rect x="656.1" y="296.9" width="1.9" height="1.8" rx="0.6"/><rect x="674.2" y="302.4" width="1.9" height="1.8" rx="0.6"/><rect x="719.0" y="286.5" width="1.9" height="1.8" rx="0.6"/><rect x="661.1" y="275.8" width="1.9" height="1.8" rx="0.6"/><rect x="705.8" y="254.7" width="1.9" height="1.8" rx="0.6"/><rect x="744.5" y="257.7" width="1.9" height="1.8" rx="0.6"/><rect x="628.8" y="304.9" width="1.9" height="1.8" rx="0.6"/></g><path d="M583.0,317.8 q2,-2.2 4,0 M587.1,318.4 q2,-2.2 4,0 M591.2,316.7 q2,-2.2 4,0 M595.3,313.8 q2,-2.2 4,0 M599.4,316.9 q2,-2.2 4,0 M603.5,314.0 q2,-2.2 4,0 M607.6,315.5 q2,-2.2 4,0 M611.7,316.9 q2,-2.2 4,0 M615.8,316.5 q2,-2.2 4,0 M619.9,316.8 q2,-2.2 4,0 M624.0,315.7 q2,-2.2 4,0 M628.1,316.3 q2,-2.2 4,0 M632.2,317.2 q2,-2.2 4,0 M636.3,317.9 q2,-2.2 4,0 M640.4,314.3 q2,-2.2 4,0 M644.5,315.3 q2,-2.2 4,0 M648.6,316.9 q2,-2.2 4,0 M652.7,313.6 q2,-2.2 4,0 M656.8,315.4 q2,-2.2 4,0 M660.9,315.1 q2,-2.2 4,0 M665.0,318.1 q2,-2.2 4,0 M669.1,315.2 q2,-2.2 4,0 M673.2,315.8 q2,-2.2 4,0 M677.3,317.7 q2,-2.2 4,0 M681.4,314.2 q2,-2.2 4,0 M685.5,316.5 q2,-2.2 4,0 M689.6,313.6 q2,-2.2 4,0 M693.7,314.1 q2,-2.2 4,0 M697.8,317.9 q2,-2.2 4,0 M701.9,314.2 q2,-2.2 4,0 " fill="none" stroke="#c4c4c4" stroke-width="1.1"/><g fill="#2b5597"><rect x="588.3" y="314.4" width="1.6" height="1.6"/><rect x="691.5" y="313.7" width="1.6" height="1.6"/><rect x="685.7" y="314.8" width="1.6" height="1.6"/><rect x="605.9" y="314.4" width="1.6" height="1.6"/><rect x="672.8" y="316.7" width="1.6" height="1.6"/><rect x="632.3" y="314.0" width="1.6" height="1.6"/><rect x="582.6" y="316.0" width="1.6" height="1.6"/><rect x="683.7" y="313.6" width="1.6" height="1.6"/><rect x="611.8" y="315.7" width="1.6" height="1.6"/><rect x="661.2" y="313.3" width="1.6" height="1.6"/><rect x="596.2" y="317.3" width="1.6" height="1.6"/><rect x="645.6" y="319.0" width="1.6" height="1.6"/><rect x="606.7" y="315.2" width="1.6" height="1.6"/><rect x="626.4" y="317.2" width="1.6" height="1.6"/><rect x="604.1" y="316.7" width="1.6" height="1.6"/><rect x="607.5" y="314.9" width="1.6" height="1.6"/><rect x="627.8" y="317.5" width="1.6" height="1.6"/><rect x="675.1" y="316.5" width="1.6" height="1.6"/><rect x="615.4" y="314.1" width="1.6" height="1.6"/><rect x="630.0" y="318.1" width="1.6" height="1.6"/><rect x="697.1" y="318.4" width="1.6" height="1.6"/><rect x="678.1" y="314.8" width="1.6" height="1.6"/><rect x="584.8" y="315.9" width="1.6" height="1.6"/><rect x="644.4" y="313.9" width="1.6" height="1.6"/><rect x="677.5" y="316.4" width="1.6" height="1.6"/><rect x="602.2" y="317.3" width="1.6" height="1.6"/><rect x="741.9" y="284.0" width="1.5" height="1.5"/><rect x="720.9" y="305.7" width="1.5" height="1.5"/><rect x="750.9" y="270.9" width="1.5" height="1.5"/><rect x="742.0" y="279.4" width="1.5" height="1.5"/><rect x="733.0" y="292.1" width="1.5" height="1.5"/><rect x="755.7" y="269.3" width="1.5" height="1.5"/><rect x="727.9" y="293.2" width="1.5" height="1.5"/><rect x="744.3" y="280.7" width="1.5" height="1.5"/><rect x="749.3" y="276.8" width="1.5" height="1.5"/><rect x="749.2" y="277.9" width="1.5" height="1.5"/><rect x="741.5" y="279.4" width="1.5" height="1.5"/><rect x="726.2" y="294.6" width="1.5" height="1.5"/><rect x="751.3" y="274.0" width="1.5" height="1.5"/><rect x="708.4" y="316.2" width="1.5" height="1.5"/><rect x="740.4" y="281.5" width="1.5" height="1.5"/><rect x="753.4" y="268.3" width="1.5" height="1.5"/><rect x="750.9" y="270.8" width="1.5" height="1.5"/><rect x="743.3" y="279.4" width="1.5" height="1.5"/></g></g>
</svg>
</body></html>
